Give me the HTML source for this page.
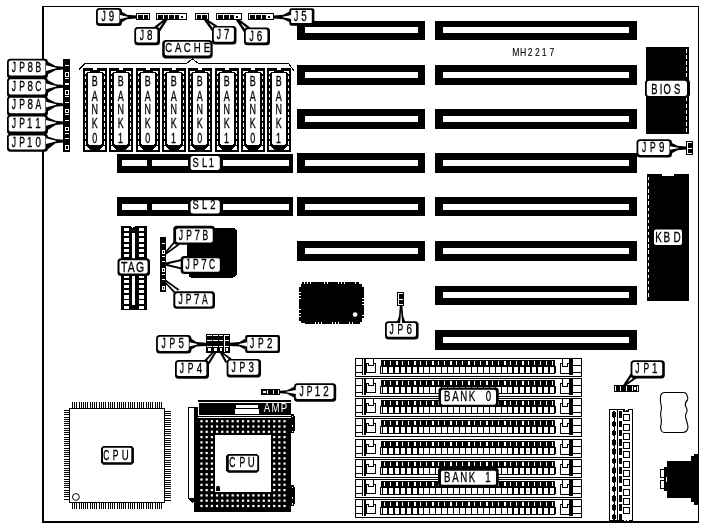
<!DOCTYPE html>
<html><head><meta charset="utf-8"><title>MH2217</title>
<style>
html,body{margin:0;padding:0;background:#fff;}
body{width:704px;height:527px;overflow:hidden;}
svg{display:block;font-family:"Liberation Sans",sans-serif;will-change:transform;}
</style></head><body>
<svg width="704" height="527" viewBox="0 0 704 527" shape-rendering="crispEdges">
<rect x="0" y="0" width="704" height="527" fill="#fff"/>
<rect x="42" y="6" width="657" height="1" fill="#000"/>
<rect x="42" y="6" width="2" height="517" fill="#000"/>
<rect x="698" y="6" width="1" height="516" fill="#000"/>
<rect x="42" y="521" width="657" height="2" fill="#000"/>
<rect x="297" y="21" width="128" height="19" fill="#000"/>
<rect x="305" y="27" width="113" height="6" fill="#fff"/>
<rect x="435" y="21" width="202" height="19" fill="#000"/>
<rect x="443" y="27" width="186" height="6" fill="#fff"/>
<rect x="297" y="65" width="128" height="20" fill="#000"/>
<rect x="305" y="72" width="113" height="6" fill="#fff"/>
<rect x="435" y="65" width="202" height="20" fill="#000"/>
<rect x="443" y="72" width="186" height="6" fill="#fff"/>
<rect x="297" y="109" width="128" height="20" fill="#000"/>
<rect x="305" y="116" width="113" height="6" fill="#fff"/>
<rect x="435" y="109" width="202" height="20" fill="#000"/>
<rect x="443" y="116" width="186" height="6" fill="#fff"/>
<rect x="297" y="153" width="128" height="20" fill="#000"/>
<rect x="305" y="160" width="113" height="6" fill="#fff"/>
<rect x="435" y="153" width="202" height="20" fill="#000"/>
<rect x="443" y="160" width="186" height="6" fill="#fff"/>
<rect x="297" y="197" width="128" height="19" fill="#000"/>
<rect x="305" y="204" width="113" height="6" fill="#fff"/>
<rect x="435" y="197" width="202" height="19" fill="#000"/>
<rect x="443" y="204" width="186" height="6" fill="#fff"/>
<rect x="297" y="241" width="128" height="20" fill="#000"/>
<rect x="305" y="248" width="113" height="6" fill="#fff"/>
<rect x="435" y="241" width="202" height="20" fill="#000"/>
<rect x="443" y="248" width="186" height="6" fill="#fff"/>
<rect x="435" y="286" width="202" height="19" fill="#000"/>
<rect x="443" y="292" width="186" height="6" fill="#fff"/>
<rect x="435" y="330" width="202" height="20" fill="#000"/>
<rect x="443" y="337" width="186" height="6" fill="#fff"/>
<rect x="117" y="154" width="176" height="19" fill="#000"/>
<rect x="122" y="160" width="25" height="6" fill="#fff"/>
<rect x="152" y="160" width="137" height="6" fill="#fff"/>
<rect x="188" y="160" width="34.5" height="6" fill="#000"/>
<rect x="190.6" y="156" width="29.2" height="14" rx="2.5" fill="#fff" shape-rendering="geometricPrecision"/>
<text transform="translate(195.7,166.7) scale(0.7,1)" text-anchor="middle" font-size="13.4" fill="#000" stroke="#000" stroke-width="0.32">S</text>
<text transform="translate(204.6,166.7) scale(0.7,1)" text-anchor="middle" font-size="13.4" fill="#000" stroke="#000" stroke-width="0.32">L</text>
<text transform="translate(211.4,166.7) scale(0.7,1)" text-anchor="middle" font-size="13.4" fill="#000" stroke="#000" stroke-width="0.32">1</text>
<rect x="117" y="197" width="176" height="19" fill="#000"/>
<rect x="122" y="204" width="25" height="6" fill="#fff"/>
<rect x="152" y="204" width="137" height="6" fill="#fff"/>
<rect x="188" y="204" width="34.5" height="6" fill="#000"/>
<rect x="190.6" y="200.2" width="29.2" height="13.4" rx="2.5" fill="#fff" shape-rendering="geometricPrecision"/>
<text transform="translate(195.7,209.2) scale(0.7,1)" text-anchor="middle" font-size="13.4" fill="#000" stroke="#000" stroke-width="0.32">S</text>
<text transform="translate(204.6,209.2) scale(0.7,1)" text-anchor="middle" font-size="13.4" fill="#000" stroke="#000" stroke-width="0.32">L</text>
<text transform="translate(212.8,209.2) scale(0.7,1)" text-anchor="middle" font-size="13.4" fill="#000" stroke="#000" stroke-width="0.32">2</text>
<rect x="136" y="13" width="14" height="7" fill="#000"/>
<rect x="137" y="14" width="12" height="5" fill="#fff"/>
<rect x="138" y="15" width="5" height="4" fill="#000"/>
<rect x="144" y="15" width="4" height="4" fill="#000"/>
<rect x="156" y="13" width="31" height="7" fill="#000"/>
<rect x="157" y="14" width="29" height="5" fill="#fff"/>
<rect x="158" y="15" width="5" height="4" fill="#000"/>
<rect x="164" y="15" width="4" height="4" fill="#000"/>
<rect x="169" y="15" width="5" height="4" fill="#000"/>
<rect x="175" y="15" width="4" height="4" fill="#000"/>
<rect x="181" y="16" width="2" height="2" fill="#000"/>
<rect x="195" y="13" width="14" height="7" fill="#000"/>
<rect x="196" y="14" width="12" height="5" fill="#fff"/>
<rect x="197" y="15" width="4" height="4" fill="#000"/>
<rect x="202" y="15" width="5" height="4" fill="#000"/>
<rect x="216" y="13" width="26" height="7" fill="#000"/>
<rect x="217" y="14" width="24" height="5" fill="#fff"/>
<rect x="218" y="15" width="5" height="4" fill="#000"/>
<rect x="224" y="15" width="5" height="4" fill="#000"/>
<rect x="230" y="15" width="4" height="4" fill="#000"/>
<rect x="236" y="16" width="2" height="2" fill="#000"/>
<rect x="248" y="13" width="26" height="7" fill="#000"/>
<rect x="249" y="14" width="24" height="5" fill="#fff"/>
<rect x="250" y="15" width="5" height="4" fill="#000"/>
<rect x="256" y="15" width="5" height="4" fill="#000"/>
<rect x="262" y="15" width="4" height="4" fill="#000"/>
<rect x="268" y="16" width="2" height="2" fill="#000"/>
<rect x="96" y="8" width="26" height="18" rx="3.5" fill="#000" shape-rendering="geometricPrecision"/>
<rect x="97.8" y="9.7" width="21.6" height="13.6" rx="1.8" fill="#fff" shape-rendering="geometricPrecision"/>
<text transform="translate(103.75,21) scale(0.6,1)" text-anchor="middle" font-size="14.2" fill="#000" stroke="#000" stroke-width="0.32">J</text>
<text transform="translate(111.45,21) scale(0.69,1)" text-anchor="middle" font-size="14.2" fill="#000" stroke="#000" stroke-width="0.32">9</text>
<polygon points="154,27 163.6,19.5 167.8,19.5 160,31.5" fill="#000" shape-rendering="geometricPrecision"/>
<polygon points="155.92,28.44 162.69,22.72 162.91,22.78 158.08,30.06" fill="#fff" shape-rendering="geometricPrecision"/>
<rect x="134.3" y="27" width="25.7" height="18.3" rx="3.5" fill="#000" shape-rendering="geometricPrecision"/>
<rect x="136.1" y="28.7" width="21.3" height="13.9" rx="1.8" fill="#fff" shape-rendering="geometricPrecision"/>
<text transform="translate(141.9,40) scale(0.6,1)" text-anchor="middle" font-size="14.2" fill="#000" stroke="#000" stroke-width="0.32">J</text>
<text transform="translate(149.6,40) scale(0.69,1)" text-anchor="middle" font-size="14.2" fill="#000" stroke="#000" stroke-width="0.32">8</text>
<polygon points="218.5,26.5 207.5,19.5 203.5,19.5 212.3,31.5" fill="#000" shape-rendering="geometricPrecision"/>
<polygon points="216.55,28.07 209.33,23.06 209.16,23.13 214.25,29.93" fill="#fff" shape-rendering="geometricPrecision"/>
<rect x="212" y="25.9" width="24.5" height="18.5" rx="3.5" fill="#000" shape-rendering="geometricPrecision"/>
<rect x="213.8" y="27.6" width="20.1" height="14.1" rx="1.8" fill="#fff" shape-rendering="geometricPrecision"/>
<text transform="translate(219,38.9) scale(0.6,1)" text-anchor="middle" font-size="14.2" fill="#000" stroke="#000" stroke-width="0.32">J</text>
<text transform="translate(226.7,38.9) scale(0.69,1)" text-anchor="middle" font-size="14.2" fill="#000" stroke="#000" stroke-width="0.32">7</text>
<polygon points="250.5,27.8 239.6,19.5 235.6,19.5 244.5,33" fill="#000" shape-rendering="geometricPrecision"/>
<polygon points="248.61,29.44 241.44,23.62 241.3,23.68 246.39,31.36" fill="#fff" shape-rendering="geometricPrecision"/>
<rect x="244" y="27.5" width="26" height="17.7" rx="3.5" fill="#000" shape-rendering="geometricPrecision"/>
<rect x="245.8" y="29.2" width="21.6" height="13.3" rx="1.8" fill="#fff" shape-rendering="geometricPrecision"/>
<text transform="translate(251.75,40.5) scale(0.6,1)" text-anchor="middle" font-size="14.2" fill="#000" stroke="#000" stroke-width="0.32">J</text>
<text transform="translate(259.45,40.5) scale(0.69,1)" text-anchor="middle" font-size="14.2" fill="#000" stroke="#000" stroke-width="0.32">6</text>
<rect x="289.3" y="8.2" width="25.1" height="17.6" rx="2.2" fill="#000" shape-rendering="geometricPrecision"/>
<rect x="291.1" y="9.9" width="20.7" height="13.2" rx="1" fill="#fff" shape-rendering="geometricPrecision"/>
<text transform="translate(296.2,21.2) scale(0.6,1)" text-anchor="middle" font-size="14.2" fill="#000" stroke="#000" stroke-width="0.32">J</text>
<text transform="translate(303.9,21.2) scale(0.69,1)" text-anchor="middle" font-size="14.2" fill="#000" stroke="#000" stroke-width="0.32">5</text>
<rect x="162.2" y="39.9" width="50.5" height="18.7" rx="4" fill="#000" shape-rendering="geometricPrecision"/>
<rect x="164.7" y="41.7" width="45.7" height="13.7" rx="2.2" fill="#fff" shape-rendering="geometricPrecision"/>
<text transform="translate(168.8,51.8) scale(0.72,1)" text-anchor="middle" font-size="13.4" fill="#000" stroke="#000" stroke-width="0.32">C</text>
<text transform="translate(178.1,51.8) scale(0.72,1)" text-anchor="middle" font-size="13.4" fill="#000" stroke="#000" stroke-width="0.32">A</text>
<text transform="translate(187.3,51.8) scale(0.72,1)" text-anchor="middle" font-size="13.4" fill="#000" stroke="#000" stroke-width="0.32">C</text>
<text transform="translate(197.2,51.8) scale(0.72,1)" text-anchor="middle" font-size="13.4" fill="#000" stroke="#000" stroke-width="0.32">H</text>
<text transform="translate(207,51.8) scale(0.72,1)" text-anchor="middle" font-size="13.4" fill="#000" stroke="#000" stroke-width="0.32">E</text>
<polyline points="79,69.5 85,63.5 186.5,63.5 192.3,58.8 198.5,63.5 288.5,63.5 294.5,71.5" fill="none" stroke="#000" stroke-width="1"/>
<rect x="83" y="68" width="24" height="83.5" fill="#000"/>
<rect x="88" y="73" width="14" height="71.8" rx="1.5" fill="#fff"/>
<polygon points="84.8,70.6 90.4,70.6 90.4,71.9 87.2,71.9 84.8,74.2" fill="#fff"/>
<polygon points="105.2,70.6 99.6,70.6 99.6,71.9 102.8,71.9 105.2,74.2" fill="#fff"/>
<polygon points="84.8,146.1 86.6,146.1 90.2,149.8 84.8,149.8" fill="#fff"/>
<polygon points="105.2,146.1 103.4,146.1 99.8,149.8 105.2,149.8" fill="#fff"/>
<rect x="92.8" y="68" width="4" height="1.5" fill="#fff"/>
<rect x="85" y="75.8" width="1.1" height="3.4" fill="#fff"/>
<rect x="103.9" y="75.8" width="1.1" height="3.4" fill="#fff"/>
<rect x="85" y="81.75" width="1.1" height="3.4" fill="#fff"/>
<rect x="103.9" y="81.75" width="1.1" height="3.4" fill="#fff"/>
<rect x="85" y="87.7" width="1.1" height="3.4" fill="#fff"/>
<rect x="103.9" y="87.7" width="1.1" height="3.4" fill="#fff"/>
<rect x="85" y="93.65" width="1.1" height="3.4" fill="#fff"/>
<rect x="103.9" y="93.65" width="1.1" height="3.4" fill="#fff"/>
<rect x="85" y="99.6" width="1.1" height="3.4" fill="#fff"/>
<rect x="103.9" y="99.6" width="1.1" height="3.4" fill="#fff"/>
<rect x="85" y="105.55" width="1.1" height="3.4" fill="#fff"/>
<rect x="103.9" y="105.55" width="1.1" height="3.4" fill="#fff"/>
<rect x="85" y="111.5" width="1.1" height="3.4" fill="#fff"/>
<rect x="103.9" y="111.5" width="1.1" height="3.4" fill="#fff"/>
<rect x="85" y="117.45" width="1.1" height="3.4" fill="#fff"/>
<rect x="103.9" y="117.45" width="1.1" height="3.4" fill="#fff"/>
<rect x="85" y="123.4" width="1.1" height="3.4" fill="#fff"/>
<rect x="103.9" y="123.4" width="1.1" height="3.4" fill="#fff"/>
<rect x="85" y="129.35" width="1.1" height="3.4" fill="#fff"/>
<rect x="103.9" y="129.35" width="1.1" height="3.4" fill="#fff"/>
<rect x="85" y="135.3" width="1.1" height="3.4" fill="#fff"/>
<rect x="103.9" y="135.3" width="1.1" height="3.4" fill="#fff"/>
<rect x="85" y="141.25" width="1.1" height="3.4" fill="#fff"/>
<rect x="103.9" y="141.25" width="1.1" height="3.4" fill="#fff"/>
<text transform="translate(94.8,85.5) scale(0.64,1)" text-anchor="middle" font-size="14" fill="#000" stroke="#000" stroke-width="0.32">B</text>
<text transform="translate(94.8,100.5) scale(0.64,1)" text-anchor="middle" font-size="14" fill="#000" stroke="#000" stroke-width="0.32">A</text>
<text transform="translate(94.8,114.3) scale(0.64,1)" text-anchor="middle" font-size="14" fill="#000" stroke="#000" stroke-width="0.32">N</text>
<text transform="translate(94.8,128.3) scale(0.64,1)" text-anchor="middle" font-size="14" fill="#000" stroke="#000" stroke-width="0.32">K</text>
<text transform="translate(94.8,143.1) scale(0.64,1)" text-anchor="middle" font-size="14" fill="#000" stroke="#000" stroke-width="0.32">0</text>
<rect x="109" y="68" width="24" height="83.5" fill="#000"/>
<rect x="114" y="73" width="14" height="71.8" rx="1.5" fill="#fff"/>
<polygon points="110.8,70.6 116.4,70.6 116.4,71.9 113.2,71.9 110.8,74.2" fill="#fff"/>
<polygon points="131.2,70.6 125.6,70.6 125.6,71.9 128.8,71.9 131.2,74.2" fill="#fff"/>
<polygon points="110.8,146.1 112.6,146.1 116.2,149.8 110.8,149.8" fill="#fff"/>
<polygon points="131.2,146.1 129.4,146.1 125.8,149.8 131.2,149.8" fill="#fff"/>
<rect x="118.8" y="68" width="4" height="1.5" fill="#fff"/>
<rect x="111" y="75.8" width="1.1" height="3.4" fill="#fff"/>
<rect x="129.9" y="75.8" width="1.1" height="3.4" fill="#fff"/>
<rect x="111" y="81.75" width="1.1" height="3.4" fill="#fff"/>
<rect x="129.9" y="81.75" width="1.1" height="3.4" fill="#fff"/>
<rect x="111" y="87.7" width="1.1" height="3.4" fill="#fff"/>
<rect x="129.9" y="87.7" width="1.1" height="3.4" fill="#fff"/>
<rect x="111" y="93.65" width="1.1" height="3.4" fill="#fff"/>
<rect x="129.9" y="93.65" width="1.1" height="3.4" fill="#fff"/>
<rect x="111" y="99.6" width="1.1" height="3.4" fill="#fff"/>
<rect x="129.9" y="99.6" width="1.1" height="3.4" fill="#fff"/>
<rect x="111" y="105.55" width="1.1" height="3.4" fill="#fff"/>
<rect x="129.9" y="105.55" width="1.1" height="3.4" fill="#fff"/>
<rect x="111" y="111.5" width="1.1" height="3.4" fill="#fff"/>
<rect x="129.9" y="111.5" width="1.1" height="3.4" fill="#fff"/>
<rect x="111" y="117.45" width="1.1" height="3.4" fill="#fff"/>
<rect x="129.9" y="117.45" width="1.1" height="3.4" fill="#fff"/>
<rect x="111" y="123.4" width="1.1" height="3.4" fill="#fff"/>
<rect x="129.9" y="123.4" width="1.1" height="3.4" fill="#fff"/>
<rect x="111" y="129.35" width="1.1" height="3.4" fill="#fff"/>
<rect x="129.9" y="129.35" width="1.1" height="3.4" fill="#fff"/>
<rect x="111" y="135.3" width="1.1" height="3.4" fill="#fff"/>
<rect x="129.9" y="135.3" width="1.1" height="3.4" fill="#fff"/>
<rect x="111" y="141.25" width="1.1" height="3.4" fill="#fff"/>
<rect x="129.9" y="141.25" width="1.1" height="3.4" fill="#fff"/>
<text transform="translate(120.8,85.5) scale(0.64,1)" text-anchor="middle" font-size="14" fill="#000" stroke="#000" stroke-width="0.32">B</text>
<text transform="translate(120.8,100.5) scale(0.64,1)" text-anchor="middle" font-size="14" fill="#000" stroke="#000" stroke-width="0.32">A</text>
<text transform="translate(120.8,114.3) scale(0.64,1)" text-anchor="middle" font-size="14" fill="#000" stroke="#000" stroke-width="0.32">N</text>
<text transform="translate(120.8,128.3) scale(0.64,1)" text-anchor="middle" font-size="14" fill="#000" stroke="#000" stroke-width="0.32">K</text>
<text transform="translate(120.4,143.1) scale(0.64,1)" text-anchor="middle" font-size="14" fill="#000" stroke="#000" stroke-width="0.32">1</text>
<rect x="136" y="68" width="24" height="83.5" fill="#000"/>
<rect x="141" y="73" width="14" height="71.8" rx="1.5" fill="#fff"/>
<polygon points="137.8,70.6 143.4,70.6 143.4,71.9 140.2,71.9 137.8,74.2" fill="#fff"/>
<polygon points="158.2,70.6 152.6,70.6 152.6,71.9 155.8,71.9 158.2,74.2" fill="#fff"/>
<polygon points="137.8,146.1 139.6,146.1 143.2,149.8 137.8,149.8" fill="#fff"/>
<polygon points="158.2,146.1 156.4,146.1 152.8,149.8 158.2,149.8" fill="#fff"/>
<rect x="145.8" y="68" width="4" height="1.5" fill="#fff"/>
<rect x="138" y="75.8" width="1.1" height="3.4" fill="#fff"/>
<rect x="156.9" y="75.8" width="1.1" height="3.4" fill="#fff"/>
<rect x="138" y="81.75" width="1.1" height="3.4" fill="#fff"/>
<rect x="156.9" y="81.75" width="1.1" height="3.4" fill="#fff"/>
<rect x="138" y="87.7" width="1.1" height="3.4" fill="#fff"/>
<rect x="156.9" y="87.7" width="1.1" height="3.4" fill="#fff"/>
<rect x="138" y="93.65" width="1.1" height="3.4" fill="#fff"/>
<rect x="156.9" y="93.65" width="1.1" height="3.4" fill="#fff"/>
<rect x="138" y="99.6" width="1.1" height="3.4" fill="#fff"/>
<rect x="156.9" y="99.6" width="1.1" height="3.4" fill="#fff"/>
<rect x="138" y="105.55" width="1.1" height="3.4" fill="#fff"/>
<rect x="156.9" y="105.55" width="1.1" height="3.4" fill="#fff"/>
<rect x="138" y="111.5" width="1.1" height="3.4" fill="#fff"/>
<rect x="156.9" y="111.5" width="1.1" height="3.4" fill="#fff"/>
<rect x="138" y="117.45" width="1.1" height="3.4" fill="#fff"/>
<rect x="156.9" y="117.45" width="1.1" height="3.4" fill="#fff"/>
<rect x="138" y="123.4" width="1.1" height="3.4" fill="#fff"/>
<rect x="156.9" y="123.4" width="1.1" height="3.4" fill="#fff"/>
<rect x="138" y="129.35" width="1.1" height="3.4" fill="#fff"/>
<rect x="156.9" y="129.35" width="1.1" height="3.4" fill="#fff"/>
<rect x="138" y="135.3" width="1.1" height="3.4" fill="#fff"/>
<rect x="156.9" y="135.3" width="1.1" height="3.4" fill="#fff"/>
<rect x="138" y="141.25" width="1.1" height="3.4" fill="#fff"/>
<rect x="156.9" y="141.25" width="1.1" height="3.4" fill="#fff"/>
<text transform="translate(147.8,85.5) scale(0.64,1)" text-anchor="middle" font-size="14" fill="#000" stroke="#000" stroke-width="0.32">B</text>
<text transform="translate(147.8,100.5) scale(0.64,1)" text-anchor="middle" font-size="14" fill="#000" stroke="#000" stroke-width="0.32">A</text>
<text transform="translate(147.8,114.3) scale(0.64,1)" text-anchor="middle" font-size="14" fill="#000" stroke="#000" stroke-width="0.32">N</text>
<text transform="translate(147.8,128.3) scale(0.64,1)" text-anchor="middle" font-size="14" fill="#000" stroke="#000" stroke-width="0.32">K</text>
<text transform="translate(147.8,143.1) scale(0.64,1)" text-anchor="middle" font-size="14" fill="#000" stroke="#000" stroke-width="0.32">0</text>
<rect x="162" y="68" width="24" height="83.5" fill="#000"/>
<rect x="167" y="73" width="14" height="71.8" rx="1.5" fill="#fff"/>
<polygon points="163.8,70.6 169.4,70.6 169.4,71.9 166.2,71.9 163.8,74.2" fill="#fff"/>
<polygon points="184.2,70.6 178.6,70.6 178.6,71.9 181.8,71.9 184.2,74.2" fill="#fff"/>
<polygon points="163.8,146.1 165.6,146.1 169.2,149.8 163.8,149.8" fill="#fff"/>
<polygon points="184.2,146.1 182.4,146.1 178.8,149.8 184.2,149.8" fill="#fff"/>
<rect x="171.8" y="68" width="4" height="1.5" fill="#fff"/>
<rect x="164" y="75.8" width="1.1" height="3.4" fill="#fff"/>
<rect x="182.9" y="75.8" width="1.1" height="3.4" fill="#fff"/>
<rect x="164" y="81.75" width="1.1" height="3.4" fill="#fff"/>
<rect x="182.9" y="81.75" width="1.1" height="3.4" fill="#fff"/>
<rect x="164" y="87.7" width="1.1" height="3.4" fill="#fff"/>
<rect x="182.9" y="87.7" width="1.1" height="3.4" fill="#fff"/>
<rect x="164" y="93.65" width="1.1" height="3.4" fill="#fff"/>
<rect x="182.9" y="93.65" width="1.1" height="3.4" fill="#fff"/>
<rect x="164" y="99.6" width="1.1" height="3.4" fill="#fff"/>
<rect x="182.9" y="99.6" width="1.1" height="3.4" fill="#fff"/>
<rect x="164" y="105.55" width="1.1" height="3.4" fill="#fff"/>
<rect x="182.9" y="105.55" width="1.1" height="3.4" fill="#fff"/>
<rect x="164" y="111.5" width="1.1" height="3.4" fill="#fff"/>
<rect x="182.9" y="111.5" width="1.1" height="3.4" fill="#fff"/>
<rect x="164" y="117.45" width="1.1" height="3.4" fill="#fff"/>
<rect x="182.9" y="117.45" width="1.1" height="3.4" fill="#fff"/>
<rect x="164" y="123.4" width="1.1" height="3.4" fill="#fff"/>
<rect x="182.9" y="123.4" width="1.1" height="3.4" fill="#fff"/>
<rect x="164" y="129.35" width="1.1" height="3.4" fill="#fff"/>
<rect x="182.9" y="129.35" width="1.1" height="3.4" fill="#fff"/>
<rect x="164" y="135.3" width="1.1" height="3.4" fill="#fff"/>
<rect x="182.9" y="135.3" width="1.1" height="3.4" fill="#fff"/>
<rect x="164" y="141.25" width="1.1" height="3.4" fill="#fff"/>
<rect x="182.9" y="141.25" width="1.1" height="3.4" fill="#fff"/>
<text transform="translate(173.8,85.5) scale(0.64,1)" text-anchor="middle" font-size="14" fill="#000" stroke="#000" stroke-width="0.32">B</text>
<text transform="translate(173.8,100.5) scale(0.64,1)" text-anchor="middle" font-size="14" fill="#000" stroke="#000" stroke-width="0.32">A</text>
<text transform="translate(173.8,114.3) scale(0.64,1)" text-anchor="middle" font-size="14" fill="#000" stroke="#000" stroke-width="0.32">N</text>
<text transform="translate(173.8,128.3) scale(0.64,1)" text-anchor="middle" font-size="14" fill="#000" stroke="#000" stroke-width="0.32">K</text>
<text transform="translate(173.4,143.1) scale(0.64,1)" text-anchor="middle" font-size="14" fill="#000" stroke="#000" stroke-width="0.32">1</text>
<rect x="188" y="68" width="24" height="83.5" fill="#000"/>
<rect x="193" y="73" width="14" height="71.8" rx="1.5" fill="#fff"/>
<polygon points="189.8,70.6 195.4,70.6 195.4,71.9 192.2,71.9 189.8,74.2" fill="#fff"/>
<polygon points="210.2,70.6 204.6,70.6 204.6,71.9 207.8,71.9 210.2,74.2" fill="#fff"/>
<polygon points="189.8,146.1 191.6,146.1 195.2,149.8 189.8,149.8" fill="#fff"/>
<polygon points="210.2,146.1 208.4,146.1 204.8,149.8 210.2,149.8" fill="#fff"/>
<rect x="197.8" y="68" width="4" height="1.5" fill="#fff"/>
<rect x="190" y="75.8" width="1.1" height="3.4" fill="#fff"/>
<rect x="208.9" y="75.8" width="1.1" height="3.4" fill="#fff"/>
<rect x="190" y="81.75" width="1.1" height="3.4" fill="#fff"/>
<rect x="208.9" y="81.75" width="1.1" height="3.4" fill="#fff"/>
<rect x="190" y="87.7" width="1.1" height="3.4" fill="#fff"/>
<rect x="208.9" y="87.7" width="1.1" height="3.4" fill="#fff"/>
<rect x="190" y="93.65" width="1.1" height="3.4" fill="#fff"/>
<rect x="208.9" y="93.65" width="1.1" height="3.4" fill="#fff"/>
<rect x="190" y="99.6" width="1.1" height="3.4" fill="#fff"/>
<rect x="208.9" y="99.6" width="1.1" height="3.4" fill="#fff"/>
<rect x="190" y="105.55" width="1.1" height="3.4" fill="#fff"/>
<rect x="208.9" y="105.55" width="1.1" height="3.4" fill="#fff"/>
<rect x="190" y="111.5" width="1.1" height="3.4" fill="#fff"/>
<rect x="208.9" y="111.5" width="1.1" height="3.4" fill="#fff"/>
<rect x="190" y="117.45" width="1.1" height="3.4" fill="#fff"/>
<rect x="208.9" y="117.45" width="1.1" height="3.4" fill="#fff"/>
<rect x="190" y="123.4" width="1.1" height="3.4" fill="#fff"/>
<rect x="208.9" y="123.4" width="1.1" height="3.4" fill="#fff"/>
<rect x="190" y="129.35" width="1.1" height="3.4" fill="#fff"/>
<rect x="208.9" y="129.35" width="1.1" height="3.4" fill="#fff"/>
<rect x="190" y="135.3" width="1.1" height="3.4" fill="#fff"/>
<rect x="208.9" y="135.3" width="1.1" height="3.4" fill="#fff"/>
<rect x="190" y="141.25" width="1.1" height="3.4" fill="#fff"/>
<rect x="208.9" y="141.25" width="1.1" height="3.4" fill="#fff"/>
<text transform="translate(199.8,85.5) scale(0.64,1)" text-anchor="middle" font-size="14" fill="#000" stroke="#000" stroke-width="0.32">B</text>
<text transform="translate(199.8,100.5) scale(0.64,1)" text-anchor="middle" font-size="14" fill="#000" stroke="#000" stroke-width="0.32">A</text>
<text transform="translate(199.8,114.3) scale(0.64,1)" text-anchor="middle" font-size="14" fill="#000" stroke="#000" stroke-width="0.32">N</text>
<text transform="translate(199.8,128.3) scale(0.64,1)" text-anchor="middle" font-size="14" fill="#000" stroke="#000" stroke-width="0.32">K</text>
<text transform="translate(199.8,143.1) scale(0.64,1)" text-anchor="middle" font-size="14" fill="#000" stroke="#000" stroke-width="0.32">0</text>
<rect x="215" y="68" width="24" height="83.5" fill="#000"/>
<rect x="220" y="73" width="14" height="71.8" rx="1.5" fill="#fff"/>
<polygon points="216.8,70.6 222.4,70.6 222.4,71.9 219.2,71.9 216.8,74.2" fill="#fff"/>
<polygon points="237.2,70.6 231.6,70.6 231.6,71.9 234.8,71.9 237.2,74.2" fill="#fff"/>
<polygon points="216.8,146.1 218.6,146.1 222.2,149.8 216.8,149.8" fill="#fff"/>
<polygon points="237.2,146.1 235.4,146.1 231.8,149.8 237.2,149.8" fill="#fff"/>
<rect x="224.8" y="68" width="4" height="1.5" fill="#fff"/>
<rect x="217" y="75.8" width="1.1" height="3.4" fill="#fff"/>
<rect x="235.9" y="75.8" width="1.1" height="3.4" fill="#fff"/>
<rect x="217" y="81.75" width="1.1" height="3.4" fill="#fff"/>
<rect x="235.9" y="81.75" width="1.1" height="3.4" fill="#fff"/>
<rect x="217" y="87.7" width="1.1" height="3.4" fill="#fff"/>
<rect x="235.9" y="87.7" width="1.1" height="3.4" fill="#fff"/>
<rect x="217" y="93.65" width="1.1" height="3.4" fill="#fff"/>
<rect x="235.9" y="93.65" width="1.1" height="3.4" fill="#fff"/>
<rect x="217" y="99.6" width="1.1" height="3.4" fill="#fff"/>
<rect x="235.9" y="99.6" width="1.1" height="3.4" fill="#fff"/>
<rect x="217" y="105.55" width="1.1" height="3.4" fill="#fff"/>
<rect x="235.9" y="105.55" width="1.1" height="3.4" fill="#fff"/>
<rect x="217" y="111.5" width="1.1" height="3.4" fill="#fff"/>
<rect x="235.9" y="111.5" width="1.1" height="3.4" fill="#fff"/>
<rect x="217" y="117.45" width="1.1" height="3.4" fill="#fff"/>
<rect x="235.9" y="117.45" width="1.1" height="3.4" fill="#fff"/>
<rect x="217" y="123.4" width="1.1" height="3.4" fill="#fff"/>
<rect x="235.9" y="123.4" width="1.1" height="3.4" fill="#fff"/>
<rect x="217" y="129.35" width="1.1" height="3.4" fill="#fff"/>
<rect x="235.9" y="129.35" width="1.1" height="3.4" fill="#fff"/>
<rect x="217" y="135.3" width="1.1" height="3.4" fill="#fff"/>
<rect x="235.9" y="135.3" width="1.1" height="3.4" fill="#fff"/>
<rect x="217" y="141.25" width="1.1" height="3.4" fill="#fff"/>
<rect x="235.9" y="141.25" width="1.1" height="3.4" fill="#fff"/>
<text transform="translate(226.8,85.5) scale(0.64,1)" text-anchor="middle" font-size="14" fill="#000" stroke="#000" stroke-width="0.32">B</text>
<text transform="translate(226.8,100.5) scale(0.64,1)" text-anchor="middle" font-size="14" fill="#000" stroke="#000" stroke-width="0.32">A</text>
<text transform="translate(226.8,114.3) scale(0.64,1)" text-anchor="middle" font-size="14" fill="#000" stroke="#000" stroke-width="0.32">N</text>
<text transform="translate(226.8,128.3) scale(0.64,1)" text-anchor="middle" font-size="14" fill="#000" stroke="#000" stroke-width="0.32">K</text>
<text transform="translate(226.4,143.1) scale(0.64,1)" text-anchor="middle" font-size="14" fill="#000" stroke="#000" stroke-width="0.32">1</text>
<rect x="241" y="68" width="24" height="83.5" fill="#000"/>
<rect x="246" y="73" width="14" height="71.8" rx="1.5" fill="#fff"/>
<polygon points="242.8,70.6 248.4,70.6 248.4,71.9 245.2,71.9 242.8,74.2" fill="#fff"/>
<polygon points="263.2,70.6 257.6,70.6 257.6,71.9 260.8,71.9 263.2,74.2" fill="#fff"/>
<polygon points="242.8,146.1 244.6,146.1 248.2,149.8 242.8,149.8" fill="#fff"/>
<polygon points="263.2,146.1 261.4,146.1 257.8,149.8 263.2,149.8" fill="#fff"/>
<rect x="250.8" y="68" width="4" height="1.5" fill="#fff"/>
<rect x="243" y="75.8" width="1.1" height="3.4" fill="#fff"/>
<rect x="261.9" y="75.8" width="1.1" height="3.4" fill="#fff"/>
<rect x="243" y="81.75" width="1.1" height="3.4" fill="#fff"/>
<rect x="261.9" y="81.75" width="1.1" height="3.4" fill="#fff"/>
<rect x="243" y="87.7" width="1.1" height="3.4" fill="#fff"/>
<rect x="261.9" y="87.7" width="1.1" height="3.4" fill="#fff"/>
<rect x="243" y="93.65" width="1.1" height="3.4" fill="#fff"/>
<rect x="261.9" y="93.65" width="1.1" height="3.4" fill="#fff"/>
<rect x="243" y="99.6" width="1.1" height="3.4" fill="#fff"/>
<rect x="261.9" y="99.6" width="1.1" height="3.4" fill="#fff"/>
<rect x="243" y="105.55" width="1.1" height="3.4" fill="#fff"/>
<rect x="261.9" y="105.55" width="1.1" height="3.4" fill="#fff"/>
<rect x="243" y="111.5" width="1.1" height="3.4" fill="#fff"/>
<rect x="261.9" y="111.5" width="1.1" height="3.4" fill="#fff"/>
<rect x="243" y="117.45" width="1.1" height="3.4" fill="#fff"/>
<rect x="261.9" y="117.45" width="1.1" height="3.4" fill="#fff"/>
<rect x="243" y="123.4" width="1.1" height="3.4" fill="#fff"/>
<rect x="261.9" y="123.4" width="1.1" height="3.4" fill="#fff"/>
<rect x="243" y="129.35" width="1.1" height="3.4" fill="#fff"/>
<rect x="261.9" y="129.35" width="1.1" height="3.4" fill="#fff"/>
<rect x="243" y="135.3" width="1.1" height="3.4" fill="#fff"/>
<rect x="261.9" y="135.3" width="1.1" height="3.4" fill="#fff"/>
<rect x="243" y="141.25" width="1.1" height="3.4" fill="#fff"/>
<rect x="261.9" y="141.25" width="1.1" height="3.4" fill="#fff"/>
<text transform="translate(252.8,85.5) scale(0.64,1)" text-anchor="middle" font-size="14" fill="#000" stroke="#000" stroke-width="0.32">B</text>
<text transform="translate(252.8,100.5) scale(0.64,1)" text-anchor="middle" font-size="14" fill="#000" stroke="#000" stroke-width="0.32">A</text>
<text transform="translate(252.8,114.3) scale(0.64,1)" text-anchor="middle" font-size="14" fill="#000" stroke="#000" stroke-width="0.32">N</text>
<text transform="translate(252.8,128.3) scale(0.64,1)" text-anchor="middle" font-size="14" fill="#000" stroke="#000" stroke-width="0.32">K</text>
<text transform="translate(252.8,143.1) scale(0.64,1)" text-anchor="middle" font-size="14" fill="#000" stroke="#000" stroke-width="0.32">0</text>
<rect x="267" y="68" width="24" height="83.5" fill="#000"/>
<rect x="272" y="73" width="14" height="71.8" rx="1.5" fill="#fff"/>
<polygon points="268.8,70.6 274.4,70.6 274.4,71.9 271.2,71.9 268.8,74.2" fill="#fff"/>
<polygon points="289.2,70.6 283.6,70.6 283.6,71.9 286.8,71.9 289.2,74.2" fill="#fff"/>
<polygon points="268.8,146.1 270.6,146.1 274.2,149.8 268.8,149.8" fill="#fff"/>
<polygon points="289.2,146.1 287.4,146.1 283.8,149.8 289.2,149.8" fill="#fff"/>
<rect x="276.8" y="68" width="4" height="1.5" fill="#fff"/>
<rect x="269" y="75.8" width="1.1" height="3.4" fill="#fff"/>
<rect x="287.9" y="75.8" width="1.1" height="3.4" fill="#fff"/>
<rect x="269" y="81.75" width="1.1" height="3.4" fill="#fff"/>
<rect x="287.9" y="81.75" width="1.1" height="3.4" fill="#fff"/>
<rect x="269" y="87.7" width="1.1" height="3.4" fill="#fff"/>
<rect x="287.9" y="87.7" width="1.1" height="3.4" fill="#fff"/>
<rect x="269" y="93.65" width="1.1" height="3.4" fill="#fff"/>
<rect x="287.9" y="93.65" width="1.1" height="3.4" fill="#fff"/>
<rect x="269" y="99.6" width="1.1" height="3.4" fill="#fff"/>
<rect x="287.9" y="99.6" width="1.1" height="3.4" fill="#fff"/>
<rect x="269" y="105.55" width="1.1" height="3.4" fill="#fff"/>
<rect x="287.9" y="105.55" width="1.1" height="3.4" fill="#fff"/>
<rect x="269" y="111.5" width="1.1" height="3.4" fill="#fff"/>
<rect x="287.9" y="111.5" width="1.1" height="3.4" fill="#fff"/>
<rect x="269" y="117.45" width="1.1" height="3.4" fill="#fff"/>
<rect x="287.9" y="117.45" width="1.1" height="3.4" fill="#fff"/>
<rect x="269" y="123.4" width="1.1" height="3.4" fill="#fff"/>
<rect x="287.9" y="123.4" width="1.1" height="3.4" fill="#fff"/>
<rect x="269" y="129.35" width="1.1" height="3.4" fill="#fff"/>
<rect x="287.9" y="129.35" width="1.1" height="3.4" fill="#fff"/>
<rect x="269" y="135.3" width="1.1" height="3.4" fill="#fff"/>
<rect x="287.9" y="135.3" width="1.1" height="3.4" fill="#fff"/>
<rect x="269" y="141.25" width="1.1" height="3.4" fill="#fff"/>
<rect x="287.9" y="141.25" width="1.1" height="3.4" fill="#fff"/>
<text transform="translate(278.8,85.5) scale(0.64,1)" text-anchor="middle" font-size="14" fill="#000" stroke="#000" stroke-width="0.32">B</text>
<text transform="translate(278.8,100.5) scale(0.64,1)" text-anchor="middle" font-size="14" fill="#000" stroke="#000" stroke-width="0.32">A</text>
<text transform="translate(278.8,114.3) scale(0.64,1)" text-anchor="middle" font-size="14" fill="#000" stroke="#000" stroke-width="0.32">N</text>
<text transform="translate(278.8,128.3) scale(0.64,1)" text-anchor="middle" font-size="14" fill="#000" stroke="#000" stroke-width="0.32">K</text>
<text transform="translate(278.4,143.1) scale(0.64,1)" text-anchor="middle" font-size="14" fill="#000" stroke="#000" stroke-width="0.32">1</text>
<rect x="63" y="59" width="7" height="92.5" fill="#000"/>
<rect x="65" y="65" width="4" height="1.3" fill="#fff"/>
<rect x="65" y="72" width="4" height="4.6" fill="#fff"/>
<rect x="66" y="73" width="2" height="2.6" fill="#000"/>
<rect x="66.6" y="73.8" width="0.8" height="1" fill="#fff"/>
<rect x="65" y="83.25" width="4" height="1.3" fill="#fff"/>
<rect x="65" y="77.85" width="4" height="1" fill="#fff"/>
<rect x="65" y="90.25" width="4" height="4.6" fill="#fff"/>
<rect x="66" y="91.25" width="2" height="2.6" fill="#000"/>
<rect x="66.6" y="92.05" width="0.8" height="1" fill="#fff"/>
<rect x="65" y="101.5" width="4" height="1.3" fill="#fff"/>
<rect x="65" y="96.1" width="4" height="1" fill="#fff"/>
<rect x="65" y="108.5" width="4" height="4.6" fill="#fff"/>
<rect x="66" y="109.5" width="2" height="2.6" fill="#000"/>
<rect x="66.6" y="110.3" width="0.8" height="1" fill="#fff"/>
<rect x="65" y="119.75" width="4" height="1.3" fill="#fff"/>
<rect x="65" y="114.35" width="4" height="1" fill="#fff"/>
<rect x="65" y="126.75" width="4" height="4.6" fill="#fff"/>
<rect x="66" y="127.75" width="2" height="2.6" fill="#000"/>
<rect x="66.6" y="128.55" width="0.8" height="1" fill="#fff"/>
<rect x="65" y="138" width="4" height="1.3" fill="#fff"/>
<rect x="65" y="132.6" width="4" height="1" fill="#fff"/>
<rect x="65" y="145" width="4" height="4.6" fill="#fff"/>
<rect x="66" y="146" width="2" height="2.6" fill="#000"/>
<rect x="66.6" y="146.8" width="0.8" height="1" fill="#fff"/>
<rect x="7" y="58.8" width="41" height="19.7" rx="3.5" fill="#000" shape-rendering="geometricPrecision"/>
<rect x="8.8" y="60.5" width="36.6" height="15" rx="1.8" fill="#fff" shape-rendering="geometricPrecision"/>
<text transform="translate(13.95,71.8) scale(0.6,1)" text-anchor="middle" font-size="14.2" fill="#000" stroke="#000" stroke-width="0.32">J</text>
<text transform="translate(22.05,71.8) scale(0.6,1)" text-anchor="middle" font-size="14.2" fill="#000" stroke="#000" stroke-width="0.32">P</text>
<text transform="translate(30.15,71.8) scale(0.69,1)" text-anchor="middle" font-size="14.2" fill="#000" stroke="#000" stroke-width="0.32">8</text>
<text transform="translate(38.25,71.8) scale(0.6,1)" text-anchor="middle" font-size="14.2" fill="#000" stroke="#000" stroke-width="0.32">B</text>
<rect x="7" y="77.5" width="41" height="20" rx="3.5" fill="#000" shape-rendering="geometricPrecision"/>
<rect x="8.8" y="79.2" width="36.6" height="15.3" rx="1.8" fill="#fff" shape-rendering="geometricPrecision"/>
<text transform="translate(13.95,90.5) scale(0.6,1)" text-anchor="middle" font-size="14.2" fill="#000" stroke="#000" stroke-width="0.32">J</text>
<text transform="translate(22.05,90.5) scale(0.6,1)" text-anchor="middle" font-size="14.2" fill="#000" stroke="#000" stroke-width="0.32">P</text>
<text transform="translate(30.15,90.5) scale(0.69,1)" text-anchor="middle" font-size="14.2" fill="#000" stroke="#000" stroke-width="0.32">8</text>
<text transform="translate(38.25,90.5) scale(0.6,1)" text-anchor="middle" font-size="14.2" fill="#000" stroke="#000" stroke-width="0.32">C</text>
<rect x="7" y="96" width="41" height="20.2" rx="3.5" fill="#000" shape-rendering="geometricPrecision"/>
<rect x="8.8" y="97.7" width="36.6" height="15.5" rx="1.8" fill="#fff" shape-rendering="geometricPrecision"/>
<text transform="translate(13.95,109) scale(0.6,1)" text-anchor="middle" font-size="14.2" fill="#000" stroke="#000" stroke-width="0.32">J</text>
<text transform="translate(22.05,109) scale(0.6,1)" text-anchor="middle" font-size="14.2" fill="#000" stroke="#000" stroke-width="0.32">P</text>
<text transform="translate(30.15,109) scale(0.69,1)" text-anchor="middle" font-size="14.2" fill="#000" stroke="#000" stroke-width="0.32">8</text>
<text transform="translate(38.25,109) scale(0.6,1)" text-anchor="middle" font-size="14.2" fill="#000" stroke="#000" stroke-width="0.32">A</text>
<rect x="7" y="114.7" width="41" height="19.8" rx="3.5" fill="#000" shape-rendering="geometricPrecision"/>
<rect x="8.8" y="116.4" width="36.6" height="15.1" rx="1.8" fill="#fff" shape-rendering="geometricPrecision"/>
<text transform="translate(13.95,127.7) scale(0.6,1)" text-anchor="middle" font-size="14.2" fill="#000" stroke="#000" stroke-width="0.32">J</text>
<text transform="translate(22.05,127.7) scale(0.6,1)" text-anchor="middle" font-size="14.2" fill="#000" stroke="#000" stroke-width="0.32">P</text>
<text transform="translate(29.75,127.7) scale(0.69,1)" text-anchor="middle" font-size="14.2" fill="#000" stroke="#000" stroke-width="0.32">1</text>
<text transform="translate(37.85,127.7) scale(0.69,1)" text-anchor="middle" font-size="14.2" fill="#000" stroke="#000" stroke-width="0.32">1</text>
<rect x="7" y="133.8" width="41" height="18" rx="3.5" fill="#000" shape-rendering="geometricPrecision"/>
<rect x="8.8" y="135.5" width="36.6" height="13.9" rx="1.8" fill="#fff" shape-rendering="geometricPrecision"/>
<text transform="translate(13.95,146.8) scale(0.6,1)" text-anchor="middle" font-size="14.2" fill="#000" stroke="#000" stroke-width="0.32">J</text>
<text transform="translate(22.05,146.8) scale(0.6,1)" text-anchor="middle" font-size="14.2" fill="#000" stroke="#000" stroke-width="0.32">P</text>
<text transform="translate(29.75,146.8) scale(0.69,1)" text-anchor="middle" font-size="14.2" fill="#000" stroke="#000" stroke-width="0.32">1</text>
<text transform="translate(38.25,146.8) scale(0.69,1)" text-anchor="middle" font-size="14.2" fill="#000" stroke="#000" stroke-width="0.32">0</text>
<rect x="646" y="47" width="43" height="87" fill="#000"/>
<rect x="686" y="49" width="1" height="3.6" fill="#fff"/>
<rect x="686" y="55.1" width="1" height="3.6" fill="#fff"/>
<rect x="686" y="61.2" width="1" height="3.6" fill="#fff"/>
<rect x="686" y="67.3" width="1" height="3.6" fill="#fff"/>
<rect x="686" y="73.4" width="1" height="3.6" fill="#fff"/>
<rect x="686" y="79.5" width="1" height="3.6" fill="#fff"/>
<rect x="686" y="85.6" width="1" height="3.6" fill="#fff"/>
<rect x="686" y="91.7" width="1" height="3.6" fill="#fff"/>
<rect x="686" y="97.8" width="1" height="3.6" fill="#fff"/>
<rect x="686" y="103.9" width="1" height="3.6" fill="#fff"/>
<rect x="686" y="110" width="1" height="3.6" fill="#fff"/>
<rect x="686" y="116.1" width="1" height="3.6" fill="#fff"/>
<rect x="686" y="122.2" width="1" height="3.6" fill="#fff"/>
<rect x="686" y="128.3" width="1" height="3.6" fill="#fff"/>
<rect x="645" y="79.8" width="45" height="17.2" rx="3" fill="#000" shape-rendering="geometricPrecision"/>
<rect x="646.8" y="80.8" width="40.2" height="15.1" rx="2.5" fill="#fff" shape-rendering="geometricPrecision"/>
<text transform="translate(654.3,93.7) scale(0.66,1)" text-anchor="middle" font-size="14.2" fill="#000" stroke="#000" stroke-width="0.32">B</text>
<text transform="translate(661,93.7) scale(0.66,1)" text-anchor="middle" font-size="14.2" fill="#000" stroke="#000" stroke-width="0.32">I</text>
<text transform="translate(667.1,93.7) scale(0.66,1)" text-anchor="middle" font-size="14.2" fill="#000" stroke="#000" stroke-width="0.32">O</text>
<text transform="translate(677.1,93.7) scale(0.66,1)" text-anchor="middle" font-size="14.2" fill="#000" stroke="#000" stroke-width="0.32">S</text>
<rect x="647" y="174" width="42" height="126.5" fill="#000"/>
<rect x="662" y="174" width="12" height="2" fill="#fff"/>
<rect x="648.3" y="177" width="1" height="3.3" fill="#fff"/>
<rect x="648.3" y="183.12" width="1" height="3.3" fill="#fff"/>
<rect x="648.3" y="189.24" width="1" height="3.3" fill="#fff"/>
<rect x="648.3" y="195.36" width="1" height="3.3" fill="#fff"/>
<rect x="648.3" y="201.48" width="1" height="3.3" fill="#fff"/>
<rect x="648.3" y="207.6" width="1" height="3.3" fill="#fff"/>
<rect x="648.3" y="213.72" width="1" height="3.3" fill="#fff"/>
<rect x="648.3" y="219.84" width="1" height="3.3" fill="#fff"/>
<rect x="648.3" y="225.96" width="1" height="3.3" fill="#fff"/>
<rect x="648.3" y="232.08" width="1" height="3.3" fill="#fff"/>
<rect x="648.3" y="238.2" width="1" height="3.3" fill="#fff"/>
<rect x="648.3" y="244.32" width="1" height="3.3" fill="#fff"/>
<rect x="648.3" y="250.44" width="1" height="3.3" fill="#fff"/>
<rect x="648.3" y="256.56" width="1" height="3.3" fill="#fff"/>
<rect x="648.3" y="262.68" width="1" height="3.3" fill="#fff"/>
<rect x="648.3" y="268.8" width="1" height="3.3" fill="#fff"/>
<rect x="648.3" y="274.92" width="1" height="3.3" fill="#fff"/>
<rect x="648.3" y="281.04" width="1" height="3.3" fill="#fff"/>
<rect x="648.3" y="287.16" width="1" height="3.3" fill="#fff"/>
<rect x="648.3" y="293.28" width="1" height="3.3" fill="#fff"/>
<rect x="654" y="229.5" width="28" height="15.5" rx="2" fill="#fff" shape-rendering="geometricPrecision"/>
<text transform="translate(658.6,242.3) scale(0.7,1)" text-anchor="middle" font-size="14.2" fill="#000" stroke="#000" stroke-width="0.32">K</text>
<text transform="translate(666.8,242.3) scale(0.7,1)" text-anchor="middle" font-size="14.2" fill="#000" stroke="#000" stroke-width="0.32">B</text>
<text transform="translate(677,242.3) scale(0.7,1)" text-anchor="middle" font-size="14.2" fill="#000" stroke="#000" stroke-width="0.32">D</text>
<rect x="686" y="141" width="7" height="14" fill="#000"/>
<rect x="687" y="142" width="1" height="12" fill="#fff"/>
<rect x="687" y="142" width="5" height="1" fill="#fff"/>
<rect x="688" y="147.6" width="4" height="1.2" fill="#fff"/>
<rect x="687" y="153" width="5" height="1" fill="#fff"/>
<rect x="636.5" y="139.3" width="35.5" height="18.3" rx="3.5" fill="#000" shape-rendering="geometricPrecision"/>
<rect x="638.3" y="141" width="31.1" height="13.9" rx="1.8" fill="#fff" shape-rendering="geometricPrecision"/>
<text transform="translate(644.05,152.3) scale(0.6,1)" text-anchor="middle" font-size="14.2" fill="#000" stroke="#000" stroke-width="0.32">J</text>
<text transform="translate(652.85,152.3) scale(0.6,1)" text-anchor="middle" font-size="14.2" fill="#000" stroke="#000" stroke-width="0.32">P</text>
<text transform="translate(661.65,152.3) scale(0.69,1)" text-anchor="middle" font-size="14.2" fill="#000" stroke="#000" stroke-width="0.32">9</text>
<text transform="translate(515.8,55.8) scale(0.85,1)" text-anchor="middle" font-size="10.2" fill="#000" stroke="#000" stroke-width="0.1">M</text>
<text transform="translate(523,55.8) scale(0.85,1)" text-anchor="middle" font-size="10.2" fill="#000" stroke="#000" stroke-width="0.1">H</text>
<text transform="translate(530.2,55.8) scale(0.85,1)" text-anchor="middle" font-size="10.2" fill="#000" stroke="#000" stroke-width="0.1">2</text>
<text transform="translate(537.4,55.8) scale(0.85,1)" text-anchor="middle" font-size="10.2" fill="#000" stroke="#000" stroke-width="0.1">2</text>
<text transform="translate(544.2,55.8) scale(0.85,1)" text-anchor="middle" font-size="10.2" fill="#000" stroke="#000" stroke-width="0.1">1</text>
<text transform="translate(551.8,55.8) scale(0.85,1)" text-anchor="middle" font-size="10.2" fill="#000" stroke="#000" stroke-width="0.1">7</text>
<rect x="121" y="226" width="25.5" height="83.5" fill="#000"/>
<rect x="131.5" y="232.5" width="3.5" height="72.2" fill="#fff"/>
<polygon points="131,226 135.5,226 134,228 133.3,227.3 132.5,228" fill="#fff"/>
<rect x="123.5" y="228" width="5" height="3.3" fill="#fff"/>
<rect x="139" y="228" width="5" height="3.3" fill="#fff"/>
<rect x="123.5" y="233.17" width="5" height="3.3" fill="#fff"/>
<rect x="139" y="233.17" width="5" height="3.3" fill="#fff"/>
<rect x="123.5" y="238.34" width="5" height="3.3" fill="#fff"/>
<rect x="139" y="238.34" width="5" height="3.3" fill="#fff"/>
<rect x="123.5" y="243.51" width="5" height="3.3" fill="#fff"/>
<rect x="139" y="243.51" width="5" height="3.3" fill="#fff"/>
<rect x="123.5" y="248.68" width="5" height="3.3" fill="#fff"/>
<rect x="139" y="248.68" width="5" height="3.3" fill="#fff"/>
<rect x="123.5" y="253.85" width="5" height="3.3" fill="#fff"/>
<rect x="139" y="253.85" width="5" height="3.3" fill="#fff"/>
<rect x="123.5" y="259.02" width="5" height="3.3" fill="#fff"/>
<rect x="139" y="259.02" width="5" height="3.3" fill="#fff"/>
<rect x="123.5" y="264.19" width="5" height="3.3" fill="#fff"/>
<rect x="139" y="264.19" width="5" height="3.3" fill="#fff"/>
<rect x="123.5" y="269.36" width="5" height="3.3" fill="#fff"/>
<rect x="139" y="269.36" width="5" height="3.3" fill="#fff"/>
<rect x="123.5" y="274.53" width="5" height="3.3" fill="#fff"/>
<rect x="139" y="274.53" width="5" height="3.3" fill="#fff"/>
<rect x="123.5" y="279.7" width="5" height="3.3" fill="#fff"/>
<rect x="139" y="279.7" width="5" height="3.3" fill="#fff"/>
<rect x="123.5" y="284.87" width="5" height="3.3" fill="#fff"/>
<rect x="139" y="284.87" width="5" height="3.3" fill="#fff"/>
<rect x="123.5" y="290.04" width="5" height="3.3" fill="#fff"/>
<rect x="139" y="290.04" width="5" height="3.3" fill="#fff"/>
<rect x="123.5" y="295.21" width="5" height="3.3" fill="#fff"/>
<rect x="139" y="295.21" width="5" height="3.3" fill="#fff"/>
<rect x="123.5" y="300.38" width="5" height="3.3" fill="#fff"/>
<rect x="139" y="300.38" width="5" height="3.3" fill="#fff"/>
<rect x="123.5" y="305.55" width="5" height="3.3" fill="#fff"/>
<rect x="139" y="305.55" width="5" height="3.3" fill="#fff"/>
<rect x="117.5" y="258.2" width="32.5" height="17.8" rx="3.5" fill="#000" shape-rendering="geometricPrecision"/>
<rect x="119.5" y="260.2" width="28.1" height="13.2" rx="1.8" fill="#fff" shape-rendering="geometricPrecision"/>
<text transform="translate(124.2,271.6) scale(0.74,1)" text-anchor="middle" font-size="14.2" fill="#000" stroke="#000" stroke-width="0.32">T</text>
<text transform="translate(131.3,271.6) scale(0.74,1)" text-anchor="middle" font-size="14.2" fill="#000" stroke="#000" stroke-width="0.32">A</text>
<text transform="translate(140.1,271.6) scale(0.74,1)" text-anchor="middle" font-size="14.2" fill="#000" stroke="#000" stroke-width="0.32">G</text>
<rect x="186.5" y="228" width="50.8" height="49.5" rx="4.5" fill="#000"/>
<rect x="186" y="272" width="3" height="6" fill="#fff"/>
<rect x="160" y="237" width="6" height="54.5" fill="#000"/>
<rect x="161.5" y="242.5" width="3.3" height="1" fill="#fff"/>
<rect x="161.5" y="250" width="3.3" height="3.5" fill="#fff"/>
<rect x="162.5" y="251" width="1.5" height="1.6" fill="#000"/>
<rect x="161.5" y="256" width="3.3" height="1" fill="#fff"/>
<rect x="161.5" y="260.7" width="3.3" height="1" fill="#fff"/>
<rect x="161.5" y="268.2" width="3.3" height="3.5" fill="#fff"/>
<rect x="162.5" y="269.2" width="1.5" height="1.6" fill="#000"/>
<rect x="161.5" y="274.2" width="3.3" height="1" fill="#fff"/>
<rect x="161.5" y="278.9" width="3.3" height="1" fill="#fff"/>
<rect x="161.5" y="286.4" width="3.3" height="3.5" fill="#fff"/>
<rect x="162.5" y="287.4" width="1.5" height="1.6" fill="#000"/>
<polygon points="173.8,241.5 166,250.8 166,254.8 179.5,245" fill="#000" shape-rendering="geometricPrecision"/>
<polygon points="175.42,242.49 167.17,251.64 167.2,251.83 177.88,244.01" fill="#fff" shape-rendering="geometricPrecision"/>
<rect x="173.3" y="225.8" width="41.7" height="19" rx="3.5" fill="#000" shape-rendering="geometricPrecision"/>
<rect x="176.1" y="228.4" width="36.6" height="14.1" rx="1.8" fill="#fff" shape-rendering="geometricPrecision"/>
<text transform="translate(181,239.5) scale(0.6,1)" text-anchor="middle" font-size="14.2" fill="#000" stroke="#000" stroke-width="0.32">J</text>
<text transform="translate(189.1,239.5) scale(0.6,1)" text-anchor="middle" font-size="14.2" fill="#000" stroke="#000" stroke-width="0.32">P</text>
<text transform="translate(197.2,239.5) scale(0.69,1)" text-anchor="middle" font-size="14.2" fill="#000" stroke="#000" stroke-width="0.32">7</text>
<text transform="translate(205.3,239.5) scale(0.6,1)" text-anchor="middle" font-size="14.2" fill="#000" stroke="#000" stroke-width="0.32">B</text>
<polygon points="181.5,259 166,262.6 166,265.8 181.5,269.5" fill="#000" shape-rendering="geometricPrecision"/>
<polygon points="181.5,261 168.76,263.96 168.76,264.46 181.5,267.5" fill="#fff" shape-rendering="geometricPrecision"/>
<rect x="180.7" y="255.9" width="40.8" height="18.1" rx="3.5" fill="#000" shape-rendering="geometricPrecision"/>
<rect x="183.1" y="258.2" width="36.7" height="13.6" rx="1.8" fill="#fff" shape-rendering="geometricPrecision"/>
<text transform="translate(187.75,268.8) scale(0.6,1)" text-anchor="middle" font-size="14.2" fill="#000" stroke="#000" stroke-width="0.32">J</text>
<text transform="translate(195.85,268.8) scale(0.6,1)" text-anchor="middle" font-size="14.2" fill="#000" stroke="#000" stroke-width="0.32">P</text>
<text transform="translate(203.95,268.8) scale(0.69,1)" text-anchor="middle" font-size="14.2" fill="#000" stroke="#000" stroke-width="0.32">7</text>
<text transform="translate(212.05,268.8) scale(0.6,1)" text-anchor="middle" font-size="14.2" fill="#000" stroke="#000" stroke-width="0.32">C</text>
<polygon points="179.5,289.5 166,279.8 166,284.2 173.8,293" fill="#000" shape-rendering="geometricPrecision"/>
<polygon points="177.88,290.49 166.33,281.99 166.31,282.57 175.42,292.01" fill="#fff" shape-rendering="geometricPrecision"/>
<rect x="173.3" y="291.2" width="41.7" height="17.6" rx="3.5" fill="#000" shape-rendering="geometricPrecision"/>
<rect x="175.3" y="293.3" width="37.2" height="13.2" rx="1.8" fill="#fff" shape-rendering="geometricPrecision"/>
<text transform="translate(180.6,303.9) scale(0.6,1)" text-anchor="middle" font-size="14.2" fill="#000" stroke="#000" stroke-width="0.32">J</text>
<text transform="translate(188.7,303.9) scale(0.6,1)" text-anchor="middle" font-size="14.2" fill="#000" stroke="#000" stroke-width="0.32">P</text>
<text transform="translate(196.8,303.9) scale(0.69,1)" text-anchor="middle" font-size="14.2" fill="#000" stroke="#000" stroke-width="0.32">7</text>
<text transform="translate(204.9,303.9) scale(0.6,1)" text-anchor="middle" font-size="14.2" fill="#000" stroke="#000" stroke-width="0.32">A</text>
<polygon points="302,282 358.5,282 358.5,283.5 362,283.5 362,287 364,287 364,317.5 362,317.5 362,322 360,322 360,324 305.4,324 305.4,322.5 301,322.5 301,321 299,321 299,286.6 301,286.6 301,283.5 302,283.5" fill="#000"/>
<circle cx="355.1" cy="314.6" r="2.3" fill="#fff" shape-rendering="geometricPrecision"/>
<rect x="304" y="282" width="1" height="2" fill="#fff"/>
<rect x="307.3" y="282" width="1" height="2" fill="#fff"/>
<rect x="310" y="282" width="1" height="2" fill="#fff"/>
<rect x="324" y="282" width="1" height="2" fill="#fff"/>
<rect x="327" y="282" width="1" height="2" fill="#fff"/>
<rect x="338" y="282" width="1" height="2" fill="#fff"/>
<rect x="341.3" y="282" width="1" height="2" fill="#fff"/>
<rect x="344" y="282" width="1" height="2" fill="#fff"/>
<rect x="355" y="282" width="1" height="2" fill="#fff"/>
<rect x="315" y="322" width="1" height="2" fill="#fff"/>
<rect x="318" y="322" width="1" height="2" fill="#fff"/>
<rect x="321" y="322" width="1" height="2" fill="#fff"/>
<rect x="332.3" y="322" width="1" height="2" fill="#fff"/>
<rect x="335.3" y="322" width="1" height="2" fill="#fff"/>
<rect x="338" y="322" width="1" height="2" fill="#fff"/>
<rect x="349.3" y="322" width="1" height="2" fill="#fff"/>
<rect x="352" y="322" width="1" height="2" fill="#fff"/>
<rect x="299" y="292" width="2" height="1" fill="#fff"/>
<rect x="299" y="295" width="2" height="1" fill="#fff"/>
<rect x="299" y="298.4" width="2" height="1" fill="#fff"/>
<rect x="299" y="309" width="2" height="1" fill="#fff"/>
<rect x="299" y="312.7" width="2" height="1" fill="#fff"/>
<rect x="299" y="316" width="2" height="1" fill="#fff"/>
<rect x="362" y="297.8" width="2" height="1" fill="#fff"/>
<rect x="362" y="301" width="2" height="1" fill="#fff"/>
<rect x="362" y="304.2" width="2" height="1" fill="#fff"/>
<rect x="362" y="315" width="2" height="1" fill="#fff"/>
<rect x="397" y="292" width="7" height="14" fill="#000"/>
<rect x="398" y="293" width="1" height="12" fill="#fff"/>
<rect x="398" y="293" width="5" height="1" fill="#fff"/>
<rect x="399" y="298.7" width="4" height="1.2" fill="#fff"/>
<rect x="398" y="304" width="5" height="1" fill="#fff"/>
<polygon points="399.8,306 402.4,306 403.2,316 405.5,322.5 396.8,322.5 399,316" fill="#000" shape-rendering="geometricPrecision"/>
<rect x="385" y="321.3" width="33.6" height="18.2" rx="3.5" fill="#000" shape-rendering="geometricPrecision"/>
<rect x="386.8" y="323" width="29.2" height="13.8" rx="1.8" fill="#fff" shape-rendering="geometricPrecision"/>
<text transform="translate(391.6,334.3) scale(0.6,1)" text-anchor="middle" font-size="14.2" fill="#000" stroke="#000" stroke-width="0.32">J</text>
<text transform="translate(400.4,334.3) scale(0.6,1)" text-anchor="middle" font-size="14.2" fill="#000" stroke="#000" stroke-width="0.32">P</text>
<text transform="translate(409.2,334.3) scale(0.69,1)" text-anchor="middle" font-size="14.2" fill="#000" stroke="#000" stroke-width="0.32">6</text>
<polygon points="400.1,323.4 401.1,311 402.1,323.4" fill="#fff" shape-rendering="geometricPrecision"/>
<rect x="206" y="334" width="24" height="19" fill="#000"/>
<rect x="207" y="335" width="5" height="1" fill="#fff"/>
<rect x="207" y="340" width="5" height="1" fill="#fff"/>
<rect x="207" y="346" width="5" height="1" fill="#fff"/>
<rect x="213" y="335" width="5" height="1" fill="#fff"/>
<rect x="213" y="340" width="5" height="1" fill="#fff"/>
<rect x="213" y="346" width="5" height="1" fill="#fff"/>
<rect x="219" y="335" width="4" height="1" fill="#fff"/>
<rect x="219" y="340" width="4" height="1" fill="#fff"/>
<rect x="219" y="346" width="4" height="1" fill="#fff"/>
<rect x="225" y="335" width="4" height="1" fill="#fff"/>
<rect x="225" y="340" width="4" height="1" fill="#fff"/>
<rect x="225" y="346" width="4" height="1" fill="#fff"/>
<rect x="208" y="348" width="3" height="3" fill="#fff"/>
<rect x="214" y="348" width="3" height="3" fill="#fff"/>
<rect x="220" y="348" width="2" height="3" fill="#fff"/>
<rect x="226" y="348" width="2" height="3" fill="#fff"/>
<rect x="224" y="335" width="1" height="17" fill="#fff"/>
<polygon points="204,360.5 211.8,352.4 216.4,352.4 209.5,364" fill="#000" shape-rendering="geometricPrecision"/>
<polygon points="205.77,361.63 213.49,352.9 213.94,352.92 207.73,362.87" fill="#fff" shape-rendering="geometricPrecision"/>
<polygon points="225.5,363 219.6,352.4 223.2,352.4 231.5,358.5" fill="#000" shape-rendering="geometricPrecision"/>
<polygon points="227.18,361.74 223.28,354.79 223.53,354.72 229.82,359.76" fill="#fff" shape-rendering="geometricPrecision"/>
<rect x="156.1" y="335.1" width="35.3" height="18.5" rx="3.5" fill="#000" shape-rendering="geometricPrecision"/>
<rect x="157.9" y="336.8" width="30.9" height="14.1" rx="1.8" fill="#fff" shape-rendering="geometricPrecision"/>
<text transform="translate(163.55,348.1) scale(0.6,1)" text-anchor="middle" font-size="14.2" fill="#000" stroke="#000" stroke-width="0.32">J</text>
<text transform="translate(172.35,348.1) scale(0.6,1)" text-anchor="middle" font-size="14.2" fill="#000" stroke="#000" stroke-width="0.32">P</text>
<text transform="translate(181.15,348.1) scale(0.69,1)" text-anchor="middle" font-size="14.2" fill="#000" stroke="#000" stroke-width="0.32">5</text>
<rect x="245.2" y="335" width="34.8" height="18" rx="2" fill="#000" shape-rendering="geometricPrecision"/>
<rect x="247.2" y="337" width="30.5" height="13.7" rx="1" fill="#fff" shape-rendering="geometricPrecision"/>
<text transform="translate(252.1,348) scale(0.6,1)" text-anchor="middle" font-size="14.2" fill="#000" stroke="#000" stroke-width="0.32">J</text>
<text transform="translate(260.9,348) scale(0.6,1)" text-anchor="middle" font-size="14.2" fill="#000" stroke="#000" stroke-width="0.32">P</text>
<text transform="translate(269.7,348) scale(0.69,1)" text-anchor="middle" font-size="14.2" fill="#000" stroke="#000" stroke-width="0.32">2</text>
<rect x="175" y="360" width="34" height="18.8" rx="3.5" fill="#000" shape-rendering="geometricPrecision"/>
<rect x="176.8" y="361.7" width="29.6" height="14.4" rx="1.8" fill="#fff" shape-rendering="geometricPrecision"/>
<text transform="translate(181.8,373) scale(0.6,1)" text-anchor="middle" font-size="14.2" fill="#000" stroke="#000" stroke-width="0.32">J</text>
<text transform="translate(190.6,373) scale(0.6,1)" text-anchor="middle" font-size="14.2" fill="#000" stroke="#000" stroke-width="0.32">P</text>
<text transform="translate(199.4,373) scale(0.69,1)" text-anchor="middle" font-size="14.2" fill="#000" stroke="#000" stroke-width="0.32">4</text>
<rect x="226.6" y="358.9" width="34.4" height="18.6" rx="3.5" fill="#000" shape-rendering="geometricPrecision"/>
<rect x="228.4" y="360.6" width="30" height="14.2" rx="1.8" fill="#fff" shape-rendering="geometricPrecision"/>
<text transform="translate(233.6,371.9) scale(0.6,1)" text-anchor="middle" font-size="14.2" fill="#000" stroke="#000" stroke-width="0.32">J</text>
<text transform="translate(242.4,371.9) scale(0.6,1)" text-anchor="middle" font-size="14.2" fill="#000" stroke="#000" stroke-width="0.32">P</text>
<text transform="translate(251.2,371.9) scale(0.69,1)" text-anchor="middle" font-size="14.2" fill="#000" stroke="#000" stroke-width="0.32">3</text>
<rect x="261" y="389" width="19" height="6" fill="#000"/>
<rect x="262.8" y="390.7" width="3.2" height="2.4" fill="#fff"/>
<rect x="267" y="390" width="1" height="4" fill="#fff"/>
<rect x="273" y="390" width="1" height="4" fill="#fff"/>
<rect x="278" y="390" width="1" height="4" fill="#fff"/>
<rect x="294" y="383.2" width="42.2" height="18.5" rx="3.5" fill="#000" shape-rendering="geometricPrecision"/>
<rect x="295.8" y="384.9" width="37.8" height="14.1" rx="1.8" fill="#fff" shape-rendering="geometricPrecision"/>
<text transform="translate(301.55,396.2) scale(0.6,1)" text-anchor="middle" font-size="14.2" fill="#000" stroke="#000" stroke-width="0.32">J</text>
<text transform="translate(309.65,396.2) scale(0.6,1)" text-anchor="middle" font-size="14.2" fill="#000" stroke="#000" stroke-width="0.32">P</text>
<text transform="translate(317.35,396.2) scale(0.69,1)" text-anchor="middle" font-size="14.2" fill="#000" stroke="#000" stroke-width="0.32">1</text>
<text transform="translate(325.85,396.2) scale(0.69,1)" text-anchor="middle" font-size="14.2" fill="#000" stroke="#000" stroke-width="0.32">2</text>
<rect x="69" y="408" width="96" height="95" fill="#000"/>
<rect x="70" y="409" width="94" height="93" fill="#fff"/>
<rect x="71.8" y="402" width="1" height="6" fill="#000"/>
<rect x="71.8" y="503" width="1" height="6.3" fill="#000"/>
<rect x="74.03" y="402" width="1" height="6" fill="#000"/>
<rect x="74.03" y="503" width="1" height="6.3" fill="#000"/>
<rect x="76.27" y="402" width="1" height="6" fill="#000"/>
<rect x="76.27" y="503" width="1" height="6.3" fill="#000"/>
<rect x="78.5" y="402" width="1" height="6" fill="#000"/>
<rect x="78.5" y="503" width="1" height="6.3" fill="#000"/>
<rect x="80.74" y="402" width="1" height="6" fill="#000"/>
<rect x="80.74" y="503" width="1" height="6.3" fill="#000"/>
<rect x="82.97" y="402" width="1" height="6" fill="#000"/>
<rect x="82.97" y="503" width="1" height="6.3" fill="#000"/>
<rect x="85.21" y="402" width="1" height="6" fill="#000"/>
<rect x="85.21" y="503" width="1" height="6.3" fill="#000"/>
<rect x="87.44" y="402" width="1" height="6" fill="#000"/>
<rect x="87.44" y="503" width="1" height="6.3" fill="#000"/>
<rect x="89.68" y="402" width="1" height="6" fill="#000"/>
<rect x="89.68" y="503" width="1" height="6.3" fill="#000"/>
<rect x="91.91" y="402" width="1" height="6" fill="#000"/>
<rect x="91.91" y="503" width="1" height="6.3" fill="#000"/>
<rect x="94.15" y="402" width="1" height="6" fill="#000"/>
<rect x="94.15" y="503" width="1" height="6.3" fill="#000"/>
<rect x="96.38" y="402" width="1" height="6" fill="#000"/>
<rect x="96.38" y="503" width="1" height="6.3" fill="#000"/>
<rect x="98.62" y="402" width="1" height="6" fill="#000"/>
<rect x="98.62" y="503" width="1" height="6.3" fill="#000"/>
<rect x="100.85" y="402" width="1" height="6" fill="#000"/>
<rect x="100.85" y="503" width="1" height="6.3" fill="#000"/>
<rect x="103.09" y="402" width="1" height="6" fill="#000"/>
<rect x="103.09" y="503" width="1" height="6.3" fill="#000"/>
<rect x="105.32" y="402" width="1" height="6" fill="#000"/>
<rect x="105.32" y="503" width="1" height="6.3" fill="#000"/>
<rect x="107.56" y="402" width="1" height="6" fill="#000"/>
<rect x="107.56" y="503" width="1" height="6.3" fill="#000"/>
<rect x="109.79" y="402" width="1" height="6" fill="#000"/>
<rect x="109.79" y="503" width="1" height="6.3" fill="#000"/>
<rect x="112.03" y="402" width="1" height="6" fill="#000"/>
<rect x="112.03" y="503" width="1" height="6.3" fill="#000"/>
<rect x="114.26" y="402" width="1" height="6" fill="#000"/>
<rect x="114.26" y="503" width="1" height="6.3" fill="#000"/>
<rect x="116.5" y="402" width="1" height="6" fill="#000"/>
<rect x="116.5" y="503" width="1" height="6.3" fill="#000"/>
<rect x="118.73" y="402" width="1" height="6" fill="#000"/>
<rect x="118.73" y="503" width="1" height="6.3" fill="#000"/>
<rect x="120.97" y="402" width="1" height="6" fill="#000"/>
<rect x="120.97" y="503" width="1" height="6.3" fill="#000"/>
<rect x="123.2" y="402" width="1" height="6" fill="#000"/>
<rect x="123.2" y="503" width="1" height="6.3" fill="#000"/>
<rect x="125.44" y="402" width="1" height="6" fill="#000"/>
<rect x="125.44" y="503" width="1" height="6.3" fill="#000"/>
<rect x="127.67" y="402" width="1" height="6" fill="#000"/>
<rect x="127.67" y="503" width="1" height="6.3" fill="#000"/>
<rect x="129.91" y="402" width="1" height="6" fill="#000"/>
<rect x="129.91" y="503" width="1" height="6.3" fill="#000"/>
<rect x="132.14" y="402" width="1" height="6" fill="#000"/>
<rect x="132.14" y="503" width="1" height="6.3" fill="#000"/>
<rect x="134.38" y="402" width="1" height="6" fill="#000"/>
<rect x="134.38" y="503" width="1" height="6.3" fill="#000"/>
<rect x="136.62" y="402" width="1" height="6" fill="#000"/>
<rect x="136.62" y="503" width="1" height="6.3" fill="#000"/>
<rect x="138.85" y="402" width="1" height="6" fill="#000"/>
<rect x="138.85" y="503" width="1" height="6.3" fill="#000"/>
<rect x="141.08" y="402" width="1" height="6" fill="#000"/>
<rect x="141.08" y="503" width="1" height="6.3" fill="#000"/>
<rect x="143.32" y="402" width="1" height="6" fill="#000"/>
<rect x="143.32" y="503" width="1" height="6.3" fill="#000"/>
<rect x="145.56" y="402" width="1" height="6" fill="#000"/>
<rect x="145.56" y="503" width="1" height="6.3" fill="#000"/>
<rect x="147.79" y="402" width="1" height="6" fill="#000"/>
<rect x="147.79" y="503" width="1" height="6.3" fill="#000"/>
<rect x="150.02" y="402" width="1" height="6" fill="#000"/>
<rect x="150.02" y="503" width="1" height="6.3" fill="#000"/>
<rect x="152.26" y="402" width="1" height="6" fill="#000"/>
<rect x="152.26" y="503" width="1" height="6.3" fill="#000"/>
<rect x="154.5" y="402" width="1" height="6" fill="#000"/>
<rect x="154.5" y="503" width="1" height="6.3" fill="#000"/>
<rect x="156.73" y="402" width="1" height="6" fill="#000"/>
<rect x="156.73" y="503" width="1" height="6.3" fill="#000"/>
<rect x="158.96" y="402" width="1" height="6" fill="#000"/>
<rect x="158.96" y="503" width="1" height="6.3" fill="#000"/>
<rect x="161.2" y="402" width="1" height="6" fill="#000"/>
<rect x="161.2" y="503" width="1" height="6.3" fill="#000"/>
<rect x="64" y="410" width="5" height="1" fill="#000"/>
<rect x="165" y="411" width="6" height="1" fill="#000"/>
<rect x="64" y="412.21" width="5" height="1" fill="#000"/>
<rect x="165" y="413.21" width="6" height="1" fill="#000"/>
<rect x="64" y="414.43" width="5" height="1" fill="#000"/>
<rect x="165" y="415.43" width="6" height="1" fill="#000"/>
<rect x="64" y="416.64" width="5" height="1" fill="#000"/>
<rect x="165" y="417.64" width="6" height="1" fill="#000"/>
<rect x="64" y="418.85" width="5" height="1" fill="#000"/>
<rect x="165" y="419.85" width="6" height="1" fill="#000"/>
<rect x="64" y="421.06" width="5" height="1" fill="#000"/>
<rect x="165" y="422.06" width="6" height="1" fill="#000"/>
<rect x="64" y="423.28" width="5" height="1" fill="#000"/>
<rect x="165" y="424.28" width="6" height="1" fill="#000"/>
<rect x="64" y="425.49" width="5" height="1" fill="#000"/>
<rect x="165" y="426.49" width="6" height="1" fill="#000"/>
<rect x="64" y="427.7" width="5" height="1" fill="#000"/>
<rect x="165" y="428.7" width="6" height="1" fill="#000"/>
<rect x="64" y="429.92" width="5" height="1" fill="#000"/>
<rect x="165" y="430.92" width="6" height="1" fill="#000"/>
<rect x="64" y="432.13" width="5" height="1" fill="#000"/>
<rect x="165" y="433.13" width="6" height="1" fill="#000"/>
<rect x="64" y="434.34" width="5" height="1" fill="#000"/>
<rect x="165" y="435.34" width="6" height="1" fill="#000"/>
<rect x="64" y="436.56" width="5" height="1" fill="#000"/>
<rect x="165" y="437.56" width="6" height="1" fill="#000"/>
<rect x="64" y="438.77" width="5" height="1" fill="#000"/>
<rect x="165" y="439.77" width="6" height="1" fill="#000"/>
<rect x="64" y="440.98" width="5" height="1" fill="#000"/>
<rect x="165" y="441.98" width="6" height="1" fill="#000"/>
<rect x="64" y="443.19" width="5" height="1" fill="#000"/>
<rect x="165" y="444.19" width="6" height="1" fill="#000"/>
<rect x="64" y="445.41" width="5" height="1" fill="#000"/>
<rect x="165" y="446.41" width="6" height="1" fill="#000"/>
<rect x="64" y="447.62" width="5" height="1" fill="#000"/>
<rect x="165" y="448.62" width="6" height="1" fill="#000"/>
<rect x="64" y="449.83" width="5" height="1" fill="#000"/>
<rect x="165" y="450.83" width="6" height="1" fill="#000"/>
<rect x="64" y="452.05" width="5" height="1" fill="#000"/>
<rect x="165" y="453.05" width="6" height="1" fill="#000"/>
<rect x="64" y="454.26" width="5" height="1" fill="#000"/>
<rect x="165" y="455.26" width="6" height="1" fill="#000"/>
<rect x="64" y="456.47" width="5" height="1" fill="#000"/>
<rect x="165" y="457.47" width="6" height="1" fill="#000"/>
<rect x="64" y="458.69" width="5" height="1" fill="#000"/>
<rect x="165" y="459.69" width="6" height="1" fill="#000"/>
<rect x="64" y="460.9" width="5" height="1" fill="#000"/>
<rect x="165" y="461.9" width="6" height="1" fill="#000"/>
<rect x="64" y="463.11" width="5" height="1" fill="#000"/>
<rect x="165" y="464.11" width="6" height="1" fill="#000"/>
<rect x="64" y="465.32" width="5" height="1" fill="#000"/>
<rect x="165" y="466.32" width="6" height="1" fill="#000"/>
<rect x="64" y="467.54" width="5" height="1" fill="#000"/>
<rect x="165" y="468.54" width="6" height="1" fill="#000"/>
<rect x="64" y="469.75" width="5" height="1" fill="#000"/>
<rect x="165" y="470.75" width="6" height="1" fill="#000"/>
<rect x="64" y="471.96" width="5" height="1" fill="#000"/>
<rect x="165" y="472.96" width="6" height="1" fill="#000"/>
<rect x="64" y="474.18" width="5" height="1" fill="#000"/>
<rect x="165" y="475.18" width="6" height="1" fill="#000"/>
<rect x="64" y="476.39" width="5" height="1" fill="#000"/>
<rect x="165" y="477.39" width="6" height="1" fill="#000"/>
<rect x="64" y="478.6" width="5" height="1" fill="#000"/>
<rect x="165" y="479.6" width="6" height="1" fill="#000"/>
<rect x="64" y="480.82" width="5" height="1" fill="#000"/>
<rect x="165" y="481.82" width="6" height="1" fill="#000"/>
<rect x="64" y="483.03" width="5" height="1" fill="#000"/>
<rect x="165" y="484.03" width="6" height="1" fill="#000"/>
<rect x="64" y="485.24" width="5" height="1" fill="#000"/>
<rect x="165" y="486.24" width="6" height="1" fill="#000"/>
<rect x="64" y="487.45" width="5" height="1" fill="#000"/>
<rect x="165" y="488.45" width="6" height="1" fill="#000"/>
<rect x="64" y="489.67" width="5" height="1" fill="#000"/>
<rect x="165" y="490.67" width="6" height="1" fill="#000"/>
<rect x="64" y="491.88" width="5" height="1" fill="#000"/>
<rect x="165" y="492.88" width="6" height="1" fill="#000"/>
<rect x="64" y="494.09" width="5" height="1" fill="#000"/>
<rect x="165" y="495.09" width="6" height="1" fill="#000"/>
<rect x="64" y="496.31" width="5" height="1" fill="#000"/>
<rect x="165" y="497.31" width="6" height="1" fill="#000"/>
<rect x="64" y="498.52" width="5" height="1" fill="#000"/>
<rect x="165" y="499.52" width="6" height="1" fill="#000"/>
<circle cx="75.9" cy="497" r="3.4" fill="#fff" stroke="#000" stroke-width="1" shape-rendering="geometricPrecision"/>
<polygon points="103.2,445.9 131.7,445.9 133.9,448.1 133.9,462.6 131.7,464.8 103.2,464.8 101,462.6 101,448.1" fill="#000" shape-rendering="geometricPrecision"/>
<rect x="103" y="447.8" width="28.3" height="14.4" rx="1" fill="#fff" shape-rendering="geometricPrecision"/>
<text transform="translate(106.4,459.7) scale(0.62,1)" text-anchor="middle" font-size="13.8" fill="#000" stroke="#000" stroke-width="0.32">C</text>
<text transform="translate(115.5,459.7) scale(0.62,1)" text-anchor="middle" font-size="13.8" fill="#000" stroke="#000" stroke-width="0.32">P</text>
<text transform="translate(125.2,459.7) scale(0.7,1)" text-anchor="middle" font-size="13.8" fill="#000" stroke="#000" stroke-width="0.32">U</text>
<rect x="198" y="400" width="92.5" height="1.7" fill="#000"/>
<rect x="198.8" y="402.8" width="91.7" height="12.2" fill="#000"/>
<rect x="236" y="405" width="22" height="2.5" fill="#fff"/>
<rect x="235" y="409" width="24" height="5" fill="#fff"/>
<text transform="translate(267,412) scale(0.78,1)" text-anchor="middle" font-size="12.4" fill="#fff" stroke="#fff" stroke-width="0">A</text>
<text transform="translate(275.45,412) scale(0.78,1)" text-anchor="middle" font-size="12.4" fill="#fff" stroke="#fff" stroke-width="0">M</text>
<text transform="translate(283.9,412) scale(0.78,1)" text-anchor="middle" font-size="12.4" fill="#fff" stroke="#fff" stroke-width="0">P</text>
<rect x="198" y="416.2" width="93" height="1" fill="#000"/>
<rect x="188" y="407" width="7" height="91.5" fill="#000"/>
<rect x="189" y="408" width="5" height="89.5" fill="#fff"/>
<polygon points="188.5,498.5 195,498.5 195,504 193.5,504 189,499.8" fill="#000"/>
<rect x="192.8" y="501.5" width="1" height="2" fill="#fff"/>
<rect x="194" y="407" width="4" height="13" fill="#000"/>
<rect x="194" y="418" width="97" height="94" fill="#000"/>
<rect x="215" y="435" width="56" height="57" fill="#fff"/>
<rect x="291" y="414" width="3" height="19" fill="#000"/>
<rect x="294" y="416" width="1" height="15" fill="#000"/>
<rect x="292.2" y="415.5" width="1" height="1.5" fill="#fff"/>
<rect x="292.2" y="425" width="1" height="1.5" fill="#fff"/>
<rect x="292.2" y="430.5" width="1" height="1.5" fill="#fff"/>
<rect x="291" y="485" width="3" height="20.5" fill="#000"/>
<rect x="294" y="487" width="1" height="17" fill="#000"/>
<rect x="292.2" y="486.5" width="1" height="1.5" fill="#fff"/>
<rect x="292.2" y="497" width="1" height="1.5" fill="#fff"/>
<rect x="292.2" y="503" width="1" height="1.5" fill="#fff"/>
<rect x="200.4" y="420.1" width="2.2" height="2.2" fill="#fff" shape-rendering="geometricPrecision"/>
<rect x="205.59" y="420.1" width="2.2" height="2.2" fill="#fff" shape-rendering="geometricPrecision"/>
<rect x="210.78" y="420.1" width="2.2" height="2.2" fill="#fff" shape-rendering="geometricPrecision"/>
<rect x="215.97" y="420.1" width="2.2" height="2.2" fill="#fff" shape-rendering="geometricPrecision"/>
<rect x="221.16" y="420.1" width="2.2" height="2.2" fill="#fff" shape-rendering="geometricPrecision"/>
<rect x="226.35" y="420.1" width="2.2" height="2.2" fill="#fff" shape-rendering="geometricPrecision"/>
<rect x="231.54" y="420.1" width="2.2" height="2.2" fill="#fff" shape-rendering="geometricPrecision"/>
<rect x="236.73" y="420.1" width="2.2" height="2.2" fill="#fff" shape-rendering="geometricPrecision"/>
<rect x="241.92" y="420.1" width="2.2" height="2.2" fill="#fff" shape-rendering="geometricPrecision"/>
<rect x="247.11" y="420.1" width="2.2" height="2.2" fill="#fff" shape-rendering="geometricPrecision"/>
<rect x="252.3" y="420.1" width="2.2" height="2.2" fill="#fff" shape-rendering="geometricPrecision"/>
<rect x="257.49" y="420.1" width="2.2" height="2.2" fill="#fff" shape-rendering="geometricPrecision"/>
<rect x="262.68" y="420.1" width="2.2" height="2.2" fill="#fff" shape-rendering="geometricPrecision"/>
<rect x="267.87" y="420.1" width="2.2" height="2.2" fill="#fff" shape-rendering="geometricPrecision"/>
<rect x="273.06" y="420.1" width="2.2" height="2.2" fill="#fff" shape-rendering="geometricPrecision"/>
<rect x="278.25" y="420.1" width="2.2" height="2.2" fill="#fff" shape-rendering="geometricPrecision"/>
<rect x="283.44" y="420.1" width="2.2" height="2.2" fill="#fff" shape-rendering="geometricPrecision"/>
<rect x="200.4" y="425.4" width="2.2" height="2.2" fill="#fff" shape-rendering="geometricPrecision"/>
<rect x="205.59" y="425.4" width="2.2" height="2.2" fill="#fff" shape-rendering="geometricPrecision"/>
<rect x="210.78" y="425.4" width="2.2" height="2.2" fill="#fff" shape-rendering="geometricPrecision"/>
<rect x="215.97" y="425.4" width="2.2" height="2.2" fill="#fff" shape-rendering="geometricPrecision"/>
<rect x="221.16" y="425.4" width="2.2" height="2.2" fill="#fff" shape-rendering="geometricPrecision"/>
<rect x="226.35" y="425.4" width="2.2" height="2.2" fill="#fff" shape-rendering="geometricPrecision"/>
<rect x="231.54" y="425.4" width="2.2" height="2.2" fill="#fff" shape-rendering="geometricPrecision"/>
<rect x="236.73" y="425.4" width="2.2" height="2.2" fill="#fff" shape-rendering="geometricPrecision"/>
<rect x="241.92" y="425.4" width="2.2" height="2.2" fill="#fff" shape-rendering="geometricPrecision"/>
<rect x="247.11" y="425.4" width="2.2" height="2.2" fill="#fff" shape-rendering="geometricPrecision"/>
<rect x="252.3" y="425.4" width="2.2" height="2.2" fill="#fff" shape-rendering="geometricPrecision"/>
<rect x="257.49" y="425.4" width="2.2" height="2.2" fill="#fff" shape-rendering="geometricPrecision"/>
<rect x="262.68" y="425.4" width="2.2" height="2.2" fill="#fff" shape-rendering="geometricPrecision"/>
<rect x="267.87" y="425.4" width="2.2" height="2.2" fill="#fff" shape-rendering="geometricPrecision"/>
<rect x="273.06" y="425.4" width="2.2" height="2.2" fill="#fff" shape-rendering="geometricPrecision"/>
<rect x="278.25" y="425.4" width="2.2" height="2.2" fill="#fff" shape-rendering="geometricPrecision"/>
<rect x="283.44" y="425.4" width="2.2" height="2.2" fill="#fff" shape-rendering="geometricPrecision"/>
<rect x="200.4" y="430.7" width="2.2" height="2.2" fill="#fff" shape-rendering="geometricPrecision"/>
<rect x="205.59" y="430.7" width="2.2" height="2.2" fill="#fff" shape-rendering="geometricPrecision"/>
<rect x="210.78" y="430.7" width="2.2" height="2.2" fill="#fff" shape-rendering="geometricPrecision"/>
<rect x="215.97" y="430.7" width="2.2" height="2.2" fill="#fff" shape-rendering="geometricPrecision"/>
<rect x="221.16" y="430.7" width="2.2" height="2.2" fill="#fff" shape-rendering="geometricPrecision"/>
<rect x="226.35" y="430.7" width="2.2" height="2.2" fill="#fff" shape-rendering="geometricPrecision"/>
<rect x="231.54" y="430.7" width="2.2" height="2.2" fill="#fff" shape-rendering="geometricPrecision"/>
<rect x="236.73" y="430.7" width="2.2" height="2.2" fill="#fff" shape-rendering="geometricPrecision"/>
<rect x="241.92" y="430.7" width="2.2" height="2.2" fill="#fff" shape-rendering="geometricPrecision"/>
<rect x="247.11" y="430.7" width="2.2" height="2.2" fill="#fff" shape-rendering="geometricPrecision"/>
<rect x="252.3" y="430.7" width="2.2" height="2.2" fill="#fff" shape-rendering="geometricPrecision"/>
<rect x="257.49" y="430.7" width="2.2" height="2.2" fill="#fff" shape-rendering="geometricPrecision"/>
<rect x="262.68" y="430.7" width="2.2" height="2.2" fill="#fff" shape-rendering="geometricPrecision"/>
<rect x="267.87" y="430.7" width="2.2" height="2.2" fill="#fff" shape-rendering="geometricPrecision"/>
<rect x="273.06" y="430.7" width="2.2" height="2.2" fill="#fff" shape-rendering="geometricPrecision"/>
<rect x="278.25" y="430.7" width="2.2" height="2.2" fill="#fff" shape-rendering="geometricPrecision"/>
<rect x="283.44" y="430.7" width="2.2" height="2.2" fill="#fff" shape-rendering="geometricPrecision"/>
<rect x="200.4" y="436" width="2.2" height="2.2" fill="#fff" shape-rendering="geometricPrecision"/>
<rect x="205.59" y="436" width="2.2" height="2.2" fill="#fff" shape-rendering="geometricPrecision"/>
<rect x="210.78" y="436" width="2.2" height="2.2" fill="#fff" shape-rendering="geometricPrecision"/>
<rect x="273.06" y="436" width="2.2" height="2.2" fill="#fff" shape-rendering="geometricPrecision"/>
<rect x="278.25" y="436" width="2.2" height="2.2" fill="#fff" shape-rendering="geometricPrecision"/>
<rect x="283.44" y="436" width="2.2" height="2.2" fill="#fff" shape-rendering="geometricPrecision"/>
<rect x="200.4" y="441.3" width="2.2" height="2.2" fill="#fff" shape-rendering="geometricPrecision"/>
<rect x="205.59" y="441.3" width="2.2" height="2.2" fill="#fff" shape-rendering="geometricPrecision"/>
<rect x="210.78" y="441.3" width="2.2" height="2.2" fill="#fff" shape-rendering="geometricPrecision"/>
<rect x="273.06" y="441.3" width="2.2" height="2.2" fill="#fff" shape-rendering="geometricPrecision"/>
<rect x="278.25" y="441.3" width="2.2" height="2.2" fill="#fff" shape-rendering="geometricPrecision"/>
<rect x="283.44" y="441.3" width="2.2" height="2.2" fill="#fff" shape-rendering="geometricPrecision"/>
<rect x="200.4" y="446.6" width="2.2" height="2.2" fill="#fff" shape-rendering="geometricPrecision"/>
<rect x="205.59" y="446.6" width="2.2" height="2.2" fill="#fff" shape-rendering="geometricPrecision"/>
<rect x="210.78" y="446.6" width="2.2" height="2.2" fill="#fff" shape-rendering="geometricPrecision"/>
<rect x="273.06" y="446.6" width="2.2" height="2.2" fill="#fff" shape-rendering="geometricPrecision"/>
<rect x="278.25" y="446.6" width="2.2" height="2.2" fill="#fff" shape-rendering="geometricPrecision"/>
<rect x="283.44" y="446.6" width="2.2" height="2.2" fill="#fff" shape-rendering="geometricPrecision"/>
<rect x="200.4" y="451.9" width="2.2" height="2.2" fill="#fff" shape-rendering="geometricPrecision"/>
<rect x="205.59" y="451.9" width="2.2" height="2.2" fill="#fff" shape-rendering="geometricPrecision"/>
<rect x="210.78" y="451.9" width="2.2" height="2.2" fill="#fff" shape-rendering="geometricPrecision"/>
<rect x="273.06" y="451.9" width="2.2" height="2.2" fill="#fff" shape-rendering="geometricPrecision"/>
<rect x="278.25" y="451.9" width="2.2" height="2.2" fill="#fff" shape-rendering="geometricPrecision"/>
<rect x="283.44" y="451.9" width="2.2" height="2.2" fill="#fff" shape-rendering="geometricPrecision"/>
<rect x="200.4" y="457.2" width="2.2" height="2.2" fill="#fff" shape-rendering="geometricPrecision"/>
<rect x="205.59" y="457.2" width="2.2" height="2.2" fill="#fff" shape-rendering="geometricPrecision"/>
<rect x="210.78" y="457.2" width="2.2" height="2.2" fill="#fff" shape-rendering="geometricPrecision"/>
<rect x="273.06" y="457.2" width="2.2" height="2.2" fill="#fff" shape-rendering="geometricPrecision"/>
<rect x="278.25" y="457.2" width="2.2" height="2.2" fill="#fff" shape-rendering="geometricPrecision"/>
<rect x="283.44" y="457.2" width="2.2" height="2.2" fill="#fff" shape-rendering="geometricPrecision"/>
<rect x="200.4" y="462.5" width="2.2" height="2.2" fill="#fff" shape-rendering="geometricPrecision"/>
<rect x="205.59" y="462.5" width="2.2" height="2.2" fill="#fff" shape-rendering="geometricPrecision"/>
<rect x="210.78" y="462.5" width="2.2" height="2.2" fill="#fff" shape-rendering="geometricPrecision"/>
<rect x="273.06" y="462.5" width="2.2" height="2.2" fill="#fff" shape-rendering="geometricPrecision"/>
<rect x="278.25" y="462.5" width="2.2" height="2.2" fill="#fff" shape-rendering="geometricPrecision"/>
<rect x="283.44" y="462.5" width="2.2" height="2.2" fill="#fff" shape-rendering="geometricPrecision"/>
<rect x="200.4" y="467.8" width="2.2" height="2.2" fill="#fff" shape-rendering="geometricPrecision"/>
<rect x="205.59" y="467.8" width="2.2" height="2.2" fill="#fff" shape-rendering="geometricPrecision"/>
<rect x="210.78" y="467.8" width="2.2" height="2.2" fill="#fff" shape-rendering="geometricPrecision"/>
<rect x="273.06" y="467.8" width="2.2" height="2.2" fill="#fff" shape-rendering="geometricPrecision"/>
<rect x="278.25" y="467.8" width="2.2" height="2.2" fill="#fff" shape-rendering="geometricPrecision"/>
<rect x="283.44" y="467.8" width="2.2" height="2.2" fill="#fff" shape-rendering="geometricPrecision"/>
<rect x="200.4" y="473.1" width="2.2" height="2.2" fill="#fff" shape-rendering="geometricPrecision"/>
<rect x="205.59" y="473.1" width="2.2" height="2.2" fill="#fff" shape-rendering="geometricPrecision"/>
<rect x="210.78" y="473.1" width="2.2" height="2.2" fill="#fff" shape-rendering="geometricPrecision"/>
<rect x="273.06" y="473.1" width="2.2" height="2.2" fill="#fff" shape-rendering="geometricPrecision"/>
<rect x="278.25" y="473.1" width="2.2" height="2.2" fill="#fff" shape-rendering="geometricPrecision"/>
<rect x="283.44" y="473.1" width="2.2" height="2.2" fill="#fff" shape-rendering="geometricPrecision"/>
<rect x="200.4" y="478.4" width="2.2" height="2.2" fill="#fff" shape-rendering="geometricPrecision"/>
<rect x="205.59" y="478.4" width="2.2" height="2.2" fill="#fff" shape-rendering="geometricPrecision"/>
<rect x="210.78" y="478.4" width="2.2" height="2.2" fill="#fff" shape-rendering="geometricPrecision"/>
<rect x="273.06" y="478.4" width="2.2" height="2.2" fill="#fff" shape-rendering="geometricPrecision"/>
<rect x="278.25" y="478.4" width="2.2" height="2.2" fill="#fff" shape-rendering="geometricPrecision"/>
<rect x="283.44" y="478.4" width="2.2" height="2.2" fill="#fff" shape-rendering="geometricPrecision"/>
<rect x="200.4" y="483.7" width="2.2" height="2.2" fill="#fff" shape-rendering="geometricPrecision"/>
<rect x="205.59" y="483.7" width="2.2" height="2.2" fill="#fff" shape-rendering="geometricPrecision"/>
<rect x="210.78" y="483.7" width="2.2" height="2.2" fill="#fff" shape-rendering="geometricPrecision"/>
<rect x="273.06" y="483.7" width="2.2" height="2.2" fill="#fff" shape-rendering="geometricPrecision"/>
<rect x="278.25" y="483.7" width="2.2" height="2.2" fill="#fff" shape-rendering="geometricPrecision"/>
<rect x="283.44" y="483.7" width="2.2" height="2.2" fill="#fff" shape-rendering="geometricPrecision"/>
<rect x="200.4" y="489" width="2.2" height="2.2" fill="#fff" shape-rendering="geometricPrecision"/>
<rect x="205.59" y="489" width="2.2" height="2.2" fill="#fff" shape-rendering="geometricPrecision"/>
<rect x="210.78" y="489" width="2.2" height="2.2" fill="#fff" shape-rendering="geometricPrecision"/>
<rect x="273.06" y="489" width="2.2" height="2.2" fill="#fff" shape-rendering="geometricPrecision"/>
<rect x="278.25" y="489" width="2.2" height="2.2" fill="#fff" shape-rendering="geometricPrecision"/>
<rect x="283.44" y="489" width="2.2" height="2.2" fill="#fff" shape-rendering="geometricPrecision"/>
<rect x="200.4" y="494.3" width="2.2" height="2.2" fill="#fff" shape-rendering="geometricPrecision"/>
<rect x="205.59" y="494.3" width="2.2" height="2.2" fill="#fff" shape-rendering="geometricPrecision"/>
<rect x="210.78" y="494.3" width="2.2" height="2.2" fill="#fff" shape-rendering="geometricPrecision"/>
<rect x="215.97" y="494.3" width="2.2" height="2.2" fill="#fff" shape-rendering="geometricPrecision"/>
<rect x="221.16" y="494.3" width="2.2" height="2.2" fill="#fff" shape-rendering="geometricPrecision"/>
<rect x="226.35" y="494.3" width="2.2" height="2.2" fill="#fff" shape-rendering="geometricPrecision"/>
<rect x="231.54" y="494.3" width="2.2" height="2.2" fill="#fff" shape-rendering="geometricPrecision"/>
<rect x="236.73" y="494.3" width="2.2" height="2.2" fill="#fff" shape-rendering="geometricPrecision"/>
<rect x="241.92" y="494.3" width="2.2" height="2.2" fill="#fff" shape-rendering="geometricPrecision"/>
<rect x="247.11" y="494.3" width="2.2" height="2.2" fill="#fff" shape-rendering="geometricPrecision"/>
<rect x="252.3" y="494.3" width="2.2" height="2.2" fill="#fff" shape-rendering="geometricPrecision"/>
<rect x="257.49" y="494.3" width="2.2" height="2.2" fill="#fff" shape-rendering="geometricPrecision"/>
<rect x="262.68" y="494.3" width="2.2" height="2.2" fill="#fff" shape-rendering="geometricPrecision"/>
<rect x="267.87" y="494.3" width="2.2" height="2.2" fill="#fff" shape-rendering="geometricPrecision"/>
<rect x="273.06" y="494.3" width="2.2" height="2.2" fill="#fff" shape-rendering="geometricPrecision"/>
<rect x="278.25" y="494.3" width="2.2" height="2.2" fill="#fff" shape-rendering="geometricPrecision"/>
<rect x="283.44" y="494.3" width="2.2" height="2.2" fill="#fff" shape-rendering="geometricPrecision"/>
<rect x="200.4" y="499.6" width="2.2" height="2.2" fill="#fff" shape-rendering="geometricPrecision"/>
<rect x="205.59" y="499.6" width="2.2" height="2.2" fill="#fff" shape-rendering="geometricPrecision"/>
<rect x="210.78" y="499.6" width="2.2" height="2.2" fill="#fff" shape-rendering="geometricPrecision"/>
<rect x="215.97" y="499.6" width="2.2" height="2.2" fill="#fff" shape-rendering="geometricPrecision"/>
<rect x="221.16" y="499.6" width="2.2" height="2.2" fill="#fff" shape-rendering="geometricPrecision"/>
<rect x="226.35" y="499.6" width="2.2" height="2.2" fill="#fff" shape-rendering="geometricPrecision"/>
<rect x="231.54" y="499.6" width="2.2" height="2.2" fill="#fff" shape-rendering="geometricPrecision"/>
<rect x="236.73" y="499.6" width="2.2" height="2.2" fill="#fff" shape-rendering="geometricPrecision"/>
<rect x="241.92" y="499.6" width="2.2" height="2.2" fill="#fff" shape-rendering="geometricPrecision"/>
<rect x="247.11" y="499.6" width="2.2" height="2.2" fill="#fff" shape-rendering="geometricPrecision"/>
<rect x="252.3" y="499.6" width="2.2" height="2.2" fill="#fff" shape-rendering="geometricPrecision"/>
<rect x="257.49" y="499.6" width="2.2" height="2.2" fill="#fff" shape-rendering="geometricPrecision"/>
<rect x="262.68" y="499.6" width="2.2" height="2.2" fill="#fff" shape-rendering="geometricPrecision"/>
<rect x="267.87" y="499.6" width="2.2" height="2.2" fill="#fff" shape-rendering="geometricPrecision"/>
<rect x="273.06" y="499.6" width="2.2" height="2.2" fill="#fff" shape-rendering="geometricPrecision"/>
<rect x="278.25" y="499.6" width="2.2" height="2.2" fill="#fff" shape-rendering="geometricPrecision"/>
<rect x="283.44" y="499.6" width="2.2" height="2.2" fill="#fff" shape-rendering="geometricPrecision"/>
<rect x="200.4" y="504.9" width="2.2" height="2.2" fill="#fff" shape-rendering="geometricPrecision"/>
<rect x="205.59" y="504.9" width="2.2" height="2.2" fill="#fff" shape-rendering="geometricPrecision"/>
<rect x="210.78" y="504.9" width="2.2" height="2.2" fill="#fff" shape-rendering="geometricPrecision"/>
<rect x="215.97" y="504.9" width="2.2" height="2.2" fill="#fff" shape-rendering="geometricPrecision"/>
<rect x="221.16" y="504.9" width="2.2" height="2.2" fill="#fff" shape-rendering="geometricPrecision"/>
<rect x="226.35" y="504.9" width="2.2" height="2.2" fill="#fff" shape-rendering="geometricPrecision"/>
<rect x="231.54" y="504.9" width="2.2" height="2.2" fill="#fff" shape-rendering="geometricPrecision"/>
<rect x="236.73" y="504.9" width="2.2" height="2.2" fill="#fff" shape-rendering="geometricPrecision"/>
<rect x="241.92" y="504.9" width="2.2" height="2.2" fill="#fff" shape-rendering="geometricPrecision"/>
<rect x="247.11" y="504.9" width="2.2" height="2.2" fill="#fff" shape-rendering="geometricPrecision"/>
<rect x="252.3" y="504.9" width="2.2" height="2.2" fill="#fff" shape-rendering="geometricPrecision"/>
<rect x="257.49" y="504.9" width="2.2" height="2.2" fill="#fff" shape-rendering="geometricPrecision"/>
<rect x="262.68" y="504.9" width="2.2" height="2.2" fill="#fff" shape-rendering="geometricPrecision"/>
<rect x="267.87" y="504.9" width="2.2" height="2.2" fill="#fff" shape-rendering="geometricPrecision"/>
<rect x="273.06" y="504.9" width="2.2" height="2.2" fill="#fff" shape-rendering="geometricPrecision"/>
<rect x="278.25" y="504.9" width="2.2" height="2.2" fill="#fff" shape-rendering="geometricPrecision"/>
<rect x="283.44" y="504.9" width="2.2" height="2.2" fill="#fff" shape-rendering="geometricPrecision"/>
<circle cx="218" cy="487.8" r="2" fill="#000" shape-rendering="geometricPrecision"/>
<rect x="216" y="488" width="4" height="3" fill="#000"/>
<polygon points="228.2,453.9 256.9,453.9 259.1,456.1 259.1,470.6 256.9,472.8 228.2,472.8 226,470.6 226,456.1" fill="#000" shape-rendering="geometricPrecision"/>
<rect x="228.8" y="455.7" width="28.5" height="14.5" rx="1" fill="#fff" shape-rendering="geometricPrecision"/>
<text transform="translate(232.4,466.7) scale(0.62,1)" text-anchor="middle" font-size="13.8" fill="#000" stroke="#000" stroke-width="0.32">C</text>
<text transform="translate(242.4,466.7) scale(0.62,1)" text-anchor="middle" font-size="13.8" fill="#000" stroke="#000" stroke-width="0.32">P</text>
<text transform="translate(251.2,466.7) scale(0.7,1)" text-anchor="middle" font-size="13.8" fill="#000" stroke="#000" stroke-width="0.32">U</text>
<rect x="355" y="358" width="227" height="19" fill="#000"/>
<rect x="356" y="359" width="225" height="17" fill="#fff"/>
<rect x="355" y="365" width="7.5" height="1" fill="#000"/>
<rect x="355" y="372.4" width="7.5" height="1" fill="#000"/>
<rect x="362" y="358" width="1" height="15.4" fill="#000"/>
<rect x="362.2" y="373.4" width="1.1" height="1.4" fill="#000"/>
<rect x="364" y="358" width="2" height="17" fill="#000"/>
<polygon points="366,363 369,363 369,365.4 373,365.4 373,363 375.8,363 375.8,372.7 366,372.7" fill="#000"/>
<polygon points="367,364 368,364 368,366.4 374,366.4 374,364 374.8,364 374.8,371.7 367,371.7" fill="#fff"/>
<rect x="373" y="358" width="1" height="5" fill="#000"/>
<rect x="381" y="360.2" width="174" height="6.8" fill="#000"/>
<rect x="379.8" y="366" width="176.2" height="7.8" rx="1.5" fill="#000"/>
<rect x="382.7" y="367.2" width="4.4" height="5.6" fill="#fff"/>
<rect x="384.4" y="361.2" width="1" height="4" fill="#fff"/>
<rect x="388.67" y="367.2" width="4.4" height="5.6" fill="#fff"/>
<rect x="390.37" y="361.2" width="1" height="4" fill="#fff"/>
<rect x="394.64" y="367.2" width="4.4" height="5.6" fill="#fff"/>
<rect x="396.34" y="361.2" width="1.8" height="4" fill="#fff"/>
<rect x="400.61" y="367.2" width="4.4" height="5.6" fill="#fff"/>
<rect x="402.31" y="361.2" width="1" height="4" fill="#fff"/>
<rect x="406.58" y="367.2" width="4.4" height="5.6" fill="#fff"/>
<rect x="408.28" y="361.2" width="1" height="4" fill="#fff"/>
<rect x="412.55" y="367.2" width="4.4" height="5.6" fill="#fff"/>
<rect x="414.25" y="361.2" width="1.8" height="4" fill="#fff"/>
<rect x="418.52" y="367.2" width="4.4" height="5.6" fill="#fff"/>
<rect x="420.22" y="361.2" width="1" height="4" fill="#fff"/>
<rect x="424.49" y="367.2" width="4.4" height="5.6" fill="#fff"/>
<rect x="426.19" y="361.2" width="1" height="4" fill="#fff"/>
<rect x="430.46" y="367.2" width="4.4" height="5.6" fill="#fff"/>
<rect x="432.16" y="361.2" width="1.8" height="4" fill="#fff"/>
<rect x="436.43" y="367.2" width="4.4" height="5.6" fill="#fff"/>
<rect x="438.13" y="361.2" width="1" height="4" fill="#fff"/>
<rect x="442.4" y="367.2" width="4.4" height="5.6" fill="#fff"/>
<rect x="444.1" y="361.2" width="1" height="4" fill="#fff"/>
<rect x="448.37" y="367.2" width="4.4" height="5.6" fill="#fff"/>
<rect x="450.07" y="361.2" width="1.8" height="4" fill="#fff"/>
<rect x="454.34" y="367.2" width="4.4" height="5.6" fill="#fff"/>
<rect x="456.04" y="361.2" width="1" height="4" fill="#fff"/>
<rect x="460.31" y="367.2" width="4.4" height="5.6" fill="#fff"/>
<rect x="462.01" y="361.2" width="1" height="4" fill="#fff"/>
<rect x="466.28" y="367.2" width="4.4" height="5.6" fill="#fff"/>
<rect x="467.98" y="361.2" width="1.8" height="4" fill="#fff"/>
<rect x="472.25" y="367.2" width="4.4" height="5.6" fill="#fff"/>
<rect x="473.95" y="361.2" width="1" height="4" fill="#fff"/>
<rect x="478.22" y="367.2" width="4.4" height="5.6" fill="#fff"/>
<rect x="479.92" y="361.2" width="1" height="4" fill="#fff"/>
<rect x="484.19" y="367.2" width="4.4" height="5.6" fill="#fff"/>
<rect x="485.89" y="361.2" width="1.8" height="4" fill="#fff"/>
<rect x="490.16" y="367.2" width="4.4" height="5.6" fill="#fff"/>
<rect x="491.86" y="361.2" width="1" height="4" fill="#fff"/>
<rect x="496.13" y="367.2" width="4.4" height="5.6" fill="#fff"/>
<rect x="497.83" y="361.2" width="1" height="4" fill="#fff"/>
<rect x="502.1" y="367.2" width="4.4" height="5.6" fill="#fff"/>
<rect x="503.8" y="361.2" width="1.8" height="4" fill="#fff"/>
<rect x="508.07" y="367.2" width="4.4" height="5.6" fill="#fff"/>
<rect x="509.77" y="361.2" width="1" height="4" fill="#fff"/>
<rect x="514.04" y="367.2" width="4.4" height="5.6" fill="#fff"/>
<rect x="515.74" y="361.2" width="1" height="4" fill="#fff"/>
<rect x="520.01" y="367.2" width="4.4" height="5.6" fill="#fff"/>
<rect x="521.71" y="361.2" width="1.8" height="4" fill="#fff"/>
<rect x="525.98" y="367.2" width="4.4" height="5.6" fill="#fff"/>
<rect x="527.68" y="361.2" width="1" height="4" fill="#fff"/>
<rect x="531.95" y="367.2" width="4.4" height="5.6" fill="#fff"/>
<rect x="533.65" y="361.2" width="1" height="4" fill="#fff"/>
<rect x="537.92" y="367.2" width="4.4" height="5.6" fill="#fff"/>
<rect x="539.62" y="361.2" width="1.8" height="4" fill="#fff"/>
<rect x="543.89" y="367.2" width="4.4" height="5.6" fill="#fff"/>
<rect x="545.59" y="361.2" width="1" height="4" fill="#fff"/>
<rect x="549.86" y="367.2" width="4.4" height="5.6" fill="#fff"/>
<rect x="551.56" y="361.2" width="1" height="4" fill="#fff"/>
<rect x="381" y="367.2" width="0.8" height="5.3" fill="#fff"/>
<polygon points="569.8,363 566.8,363 566.8,366 562.8,366 562.8,363 560,363 560,373.5 569.8,373.5" fill="#000"/>
<polygon points="568.8,364 567.8,364 567.8,367 561.8,367 561.8,364 561,364 561,372.5 568.8,372.5" fill="#fff"/>
<rect x="562" y="358" width="1" height="5" fill="#000"/>
<rect x="569.4" y="358" width="3.4" height="17" fill="#000"/>
<rect x="572.8" y="365" width="9.2" height="1" fill="#000"/>
<rect x="572.8" y="372.2" width="9.2" height="1" fill="#000"/>
<rect x="355" y="378" width="227" height="19" fill="#000"/>
<rect x="356" y="379" width="225" height="17" fill="#fff"/>
<rect x="355" y="385" width="7.5" height="1" fill="#000"/>
<rect x="355" y="392.4" width="7.5" height="1" fill="#000"/>
<rect x="362" y="378" width="1" height="15.4" fill="#000"/>
<rect x="362.2" y="393.4" width="1.1" height="1.4" fill="#000"/>
<rect x="364" y="378" width="2" height="17" fill="#000"/>
<polygon points="366,383 369,383 369,385.4 373,385.4 373,383 375.8,383 375.8,392.7 366,392.7" fill="#000"/>
<polygon points="367,384 368,384 368,386.4 374,386.4 374,384 374.8,384 374.8,391.7 367,391.7" fill="#fff"/>
<rect x="373" y="378" width="1" height="5" fill="#000"/>
<rect x="381" y="380.2" width="174" height="6.8" fill="#000"/>
<rect x="379.8" y="386" width="176.2" height="7.8" rx="1.5" fill="#000"/>
<rect x="382.7" y="387.2" width="4.4" height="5.6" fill="#fff"/>
<rect x="384.4" y="381.2" width="1" height="4" fill="#fff"/>
<rect x="388.67" y="387.2" width="4.4" height="5.6" fill="#fff"/>
<rect x="390.37" y="381.2" width="1" height="4" fill="#fff"/>
<rect x="394.64" y="387.2" width="4.4" height="5.6" fill="#fff"/>
<rect x="396.34" y="381.2" width="1.8" height="4" fill="#fff"/>
<rect x="400.61" y="387.2" width="4.4" height="5.6" fill="#fff"/>
<rect x="402.31" y="381.2" width="1" height="4" fill="#fff"/>
<rect x="406.58" y="387.2" width="4.4" height="5.6" fill="#fff"/>
<rect x="408.28" y="381.2" width="1" height="4" fill="#fff"/>
<rect x="412.55" y="387.2" width="4.4" height="5.6" fill="#fff"/>
<rect x="414.25" y="381.2" width="1.8" height="4" fill="#fff"/>
<rect x="418.52" y="387.2" width="4.4" height="5.6" fill="#fff"/>
<rect x="420.22" y="381.2" width="1" height="4" fill="#fff"/>
<rect x="424.49" y="387.2" width="4.4" height="5.6" fill="#fff"/>
<rect x="426.19" y="381.2" width="1" height="4" fill="#fff"/>
<rect x="430.46" y="387.2" width="4.4" height="5.6" fill="#fff"/>
<rect x="432.16" y="381.2" width="1.8" height="4" fill="#fff"/>
<rect x="436.43" y="387.2" width="4.4" height="5.6" fill="#fff"/>
<rect x="438.13" y="381.2" width="1" height="4" fill="#fff"/>
<rect x="442.4" y="387.2" width="4.4" height="5.6" fill="#fff"/>
<rect x="444.1" y="381.2" width="1" height="4" fill="#fff"/>
<rect x="448.37" y="387.2" width="4.4" height="5.6" fill="#fff"/>
<rect x="450.07" y="381.2" width="1.8" height="4" fill="#fff"/>
<rect x="454.34" y="387.2" width="4.4" height="5.6" fill="#fff"/>
<rect x="456.04" y="381.2" width="1" height="4" fill="#fff"/>
<rect x="460.31" y="387.2" width="4.4" height="5.6" fill="#fff"/>
<rect x="462.01" y="381.2" width="1" height="4" fill="#fff"/>
<rect x="466.28" y="387.2" width="4.4" height="5.6" fill="#fff"/>
<rect x="467.98" y="381.2" width="1.8" height="4" fill="#fff"/>
<rect x="472.25" y="387.2" width="4.4" height="5.6" fill="#fff"/>
<rect x="473.95" y="381.2" width="1" height="4" fill="#fff"/>
<rect x="478.22" y="387.2" width="4.4" height="5.6" fill="#fff"/>
<rect x="479.92" y="381.2" width="1" height="4" fill="#fff"/>
<rect x="484.19" y="387.2" width="4.4" height="5.6" fill="#fff"/>
<rect x="485.89" y="381.2" width="1.8" height="4" fill="#fff"/>
<rect x="490.16" y="387.2" width="4.4" height="5.6" fill="#fff"/>
<rect x="491.86" y="381.2" width="1" height="4" fill="#fff"/>
<rect x="496.13" y="387.2" width="4.4" height="5.6" fill="#fff"/>
<rect x="497.83" y="381.2" width="1" height="4" fill="#fff"/>
<rect x="502.1" y="387.2" width="4.4" height="5.6" fill="#fff"/>
<rect x="503.8" y="381.2" width="1.8" height="4" fill="#fff"/>
<rect x="508.07" y="387.2" width="4.4" height="5.6" fill="#fff"/>
<rect x="509.77" y="381.2" width="1" height="4" fill="#fff"/>
<rect x="514.04" y="387.2" width="4.4" height="5.6" fill="#fff"/>
<rect x="515.74" y="381.2" width="1" height="4" fill="#fff"/>
<rect x="520.01" y="387.2" width="4.4" height="5.6" fill="#fff"/>
<rect x="521.71" y="381.2" width="1.8" height="4" fill="#fff"/>
<rect x="525.98" y="387.2" width="4.4" height="5.6" fill="#fff"/>
<rect x="527.68" y="381.2" width="1" height="4" fill="#fff"/>
<rect x="531.95" y="387.2" width="4.4" height="5.6" fill="#fff"/>
<rect x="533.65" y="381.2" width="1" height="4" fill="#fff"/>
<rect x="537.92" y="387.2" width="4.4" height="5.6" fill="#fff"/>
<rect x="539.62" y="381.2" width="1.8" height="4" fill="#fff"/>
<rect x="543.89" y="387.2" width="4.4" height="5.6" fill="#fff"/>
<rect x="545.59" y="381.2" width="1" height="4" fill="#fff"/>
<rect x="549.86" y="387.2" width="4.4" height="5.6" fill="#fff"/>
<rect x="551.56" y="381.2" width="1" height="4" fill="#fff"/>
<rect x="381" y="387.2" width="0.8" height="5.3" fill="#fff"/>
<polygon points="569.8,383 566.8,383 566.8,386 562.8,386 562.8,383 560,383 560,393.5 569.8,393.5" fill="#000"/>
<polygon points="568.8,384 567.8,384 567.8,387 561.8,387 561.8,384 561,384 561,392.5 568.8,392.5" fill="#fff"/>
<rect x="562" y="378" width="1" height="5" fill="#000"/>
<rect x="569.4" y="378" width="3.4" height="17" fill="#000"/>
<rect x="572.8" y="385" width="9.2" height="1" fill="#000"/>
<rect x="572.8" y="392.2" width="9.2" height="1" fill="#000"/>
<rect x="355" y="398" width="227" height="19" fill="#000"/>
<rect x="356" y="399" width="225" height="17" fill="#fff"/>
<rect x="355" y="405" width="7.5" height="1" fill="#000"/>
<rect x="355" y="412.4" width="7.5" height="1" fill="#000"/>
<rect x="362" y="398" width="1" height="15.4" fill="#000"/>
<rect x="362.2" y="413.4" width="1.1" height="1.4" fill="#000"/>
<rect x="364" y="398" width="2" height="17" fill="#000"/>
<polygon points="366,403 369,403 369,405.4 373,405.4 373,403 375.8,403 375.8,412.7 366,412.7" fill="#000"/>
<polygon points="367,404 368,404 368,406.4 374,406.4 374,404 374.8,404 374.8,411.7 367,411.7" fill="#fff"/>
<rect x="373" y="398" width="1" height="5" fill="#000"/>
<rect x="381" y="400.2" width="174" height="6.8" fill="#000"/>
<rect x="379.8" y="406" width="176.2" height="7.8" rx="1.5" fill="#000"/>
<rect x="382.7" y="407.2" width="4.4" height="5.6" fill="#fff"/>
<rect x="384.4" y="401.2" width="1" height="4" fill="#fff"/>
<rect x="388.67" y="407.2" width="4.4" height="5.6" fill="#fff"/>
<rect x="390.37" y="401.2" width="1" height="4" fill="#fff"/>
<rect x="394.64" y="407.2" width="4.4" height="5.6" fill="#fff"/>
<rect x="396.34" y="401.2" width="1.8" height="4" fill="#fff"/>
<rect x="400.61" y="407.2" width="4.4" height="5.6" fill="#fff"/>
<rect x="402.31" y="401.2" width="1" height="4" fill="#fff"/>
<rect x="406.58" y="407.2" width="4.4" height="5.6" fill="#fff"/>
<rect x="408.28" y="401.2" width="1" height="4" fill="#fff"/>
<rect x="412.55" y="407.2" width="4.4" height="5.6" fill="#fff"/>
<rect x="414.25" y="401.2" width="1.8" height="4" fill="#fff"/>
<rect x="418.52" y="407.2" width="4.4" height="5.6" fill="#fff"/>
<rect x="420.22" y="401.2" width="1" height="4" fill="#fff"/>
<rect x="424.49" y="407.2" width="4.4" height="5.6" fill="#fff"/>
<rect x="426.19" y="401.2" width="1" height="4" fill="#fff"/>
<rect x="430.46" y="407.2" width="4.4" height="5.6" fill="#fff"/>
<rect x="432.16" y="401.2" width="1.8" height="4" fill="#fff"/>
<rect x="436.43" y="407.2" width="4.4" height="5.6" fill="#fff"/>
<rect x="438.13" y="401.2" width="1" height="4" fill="#fff"/>
<rect x="442.4" y="407.2" width="4.4" height="5.6" fill="#fff"/>
<rect x="444.1" y="401.2" width="1" height="4" fill="#fff"/>
<rect x="448.37" y="407.2" width="4.4" height="5.6" fill="#fff"/>
<rect x="450.07" y="401.2" width="1.8" height="4" fill="#fff"/>
<rect x="454.34" y="407.2" width="4.4" height="5.6" fill="#fff"/>
<rect x="456.04" y="401.2" width="1" height="4" fill="#fff"/>
<rect x="460.31" y="407.2" width="4.4" height="5.6" fill="#fff"/>
<rect x="462.01" y="401.2" width="1" height="4" fill="#fff"/>
<rect x="466.28" y="407.2" width="4.4" height="5.6" fill="#fff"/>
<rect x="467.98" y="401.2" width="1.8" height="4" fill="#fff"/>
<rect x="472.25" y="407.2" width="4.4" height="5.6" fill="#fff"/>
<rect x="473.95" y="401.2" width="1" height="4" fill="#fff"/>
<rect x="478.22" y="407.2" width="4.4" height="5.6" fill="#fff"/>
<rect x="479.92" y="401.2" width="1" height="4" fill="#fff"/>
<rect x="484.19" y="407.2" width="4.4" height="5.6" fill="#fff"/>
<rect x="485.89" y="401.2" width="1.8" height="4" fill="#fff"/>
<rect x="490.16" y="407.2" width="4.4" height="5.6" fill="#fff"/>
<rect x="491.86" y="401.2" width="1" height="4" fill="#fff"/>
<rect x="496.13" y="407.2" width="4.4" height="5.6" fill="#fff"/>
<rect x="497.83" y="401.2" width="1" height="4" fill="#fff"/>
<rect x="502.1" y="407.2" width="4.4" height="5.6" fill="#fff"/>
<rect x="503.8" y="401.2" width="1.8" height="4" fill="#fff"/>
<rect x="508.07" y="407.2" width="4.4" height="5.6" fill="#fff"/>
<rect x="509.77" y="401.2" width="1" height="4" fill="#fff"/>
<rect x="514.04" y="407.2" width="4.4" height="5.6" fill="#fff"/>
<rect x="515.74" y="401.2" width="1" height="4" fill="#fff"/>
<rect x="520.01" y="407.2" width="4.4" height="5.6" fill="#fff"/>
<rect x="521.71" y="401.2" width="1.8" height="4" fill="#fff"/>
<rect x="525.98" y="407.2" width="4.4" height="5.6" fill="#fff"/>
<rect x="527.68" y="401.2" width="1" height="4" fill="#fff"/>
<rect x="531.95" y="407.2" width="4.4" height="5.6" fill="#fff"/>
<rect x="533.65" y="401.2" width="1" height="4" fill="#fff"/>
<rect x="537.92" y="407.2" width="4.4" height="5.6" fill="#fff"/>
<rect x="539.62" y="401.2" width="1.8" height="4" fill="#fff"/>
<rect x="543.89" y="407.2" width="4.4" height="5.6" fill="#fff"/>
<rect x="545.59" y="401.2" width="1" height="4" fill="#fff"/>
<rect x="549.86" y="407.2" width="4.4" height="5.6" fill="#fff"/>
<rect x="551.56" y="401.2" width="1" height="4" fill="#fff"/>
<rect x="381" y="407.2" width="0.8" height="5.3" fill="#fff"/>
<polygon points="569.8,403 566.8,403 566.8,406 562.8,406 562.8,403 560,403 560,413.5 569.8,413.5" fill="#000"/>
<polygon points="568.8,404 567.8,404 567.8,407 561.8,407 561.8,404 561,404 561,412.5 568.8,412.5" fill="#fff"/>
<rect x="562" y="398" width="1" height="5" fill="#000"/>
<rect x="569.4" y="398" width="3.4" height="17" fill="#000"/>
<rect x="572.8" y="405" width="9.2" height="1" fill="#000"/>
<rect x="572.8" y="412.2" width="9.2" height="1" fill="#000"/>
<rect x="355" y="418" width="227" height="19" fill="#000"/>
<rect x="356" y="419" width="225" height="17" fill="#fff"/>
<rect x="355" y="425" width="7.5" height="1" fill="#000"/>
<rect x="355" y="432.4" width="7.5" height="1" fill="#000"/>
<rect x="362" y="418" width="1" height="15.4" fill="#000"/>
<rect x="362.2" y="433.4" width="1.1" height="1.4" fill="#000"/>
<rect x="364" y="418" width="2" height="17" fill="#000"/>
<polygon points="366,423 369,423 369,425.4 373,425.4 373,423 375.8,423 375.8,432.7 366,432.7" fill="#000"/>
<polygon points="367,424 368,424 368,426.4 374,426.4 374,424 374.8,424 374.8,431.7 367,431.7" fill="#fff"/>
<rect x="373" y="418" width="1" height="5" fill="#000"/>
<rect x="381" y="420.2" width="174" height="6.8" fill="#000"/>
<rect x="379.8" y="426" width="176.2" height="7.8" rx="1.5" fill="#000"/>
<rect x="382.7" y="427.2" width="4.4" height="5.6" fill="#fff"/>
<rect x="384.4" y="421.2" width="1" height="4" fill="#fff"/>
<rect x="388.67" y="427.2" width="4.4" height="5.6" fill="#fff"/>
<rect x="390.37" y="421.2" width="1" height="4" fill="#fff"/>
<rect x="394.64" y="427.2" width="4.4" height="5.6" fill="#fff"/>
<rect x="396.34" y="421.2" width="1.8" height="4" fill="#fff"/>
<rect x="400.61" y="427.2" width="4.4" height="5.6" fill="#fff"/>
<rect x="402.31" y="421.2" width="1" height="4" fill="#fff"/>
<rect x="406.58" y="427.2" width="4.4" height="5.6" fill="#fff"/>
<rect x="408.28" y="421.2" width="1" height="4" fill="#fff"/>
<rect x="412.55" y="427.2" width="4.4" height="5.6" fill="#fff"/>
<rect x="414.25" y="421.2" width="1.8" height="4" fill="#fff"/>
<rect x="418.52" y="427.2" width="4.4" height="5.6" fill="#fff"/>
<rect x="420.22" y="421.2" width="1" height="4" fill="#fff"/>
<rect x="424.49" y="427.2" width="4.4" height="5.6" fill="#fff"/>
<rect x="426.19" y="421.2" width="1" height="4" fill="#fff"/>
<rect x="430.46" y="427.2" width="4.4" height="5.6" fill="#fff"/>
<rect x="432.16" y="421.2" width="1.8" height="4" fill="#fff"/>
<rect x="436.43" y="427.2" width="4.4" height="5.6" fill="#fff"/>
<rect x="438.13" y="421.2" width="1" height="4" fill="#fff"/>
<rect x="442.4" y="427.2" width="4.4" height="5.6" fill="#fff"/>
<rect x="444.1" y="421.2" width="1" height="4" fill="#fff"/>
<rect x="448.37" y="427.2" width="4.4" height="5.6" fill="#fff"/>
<rect x="450.07" y="421.2" width="1.8" height="4" fill="#fff"/>
<rect x="454.34" y="427.2" width="4.4" height="5.6" fill="#fff"/>
<rect x="456.04" y="421.2" width="1" height="4" fill="#fff"/>
<rect x="460.31" y="427.2" width="4.4" height="5.6" fill="#fff"/>
<rect x="462.01" y="421.2" width="1" height="4" fill="#fff"/>
<rect x="466.28" y="427.2" width="4.4" height="5.6" fill="#fff"/>
<rect x="467.98" y="421.2" width="1.8" height="4" fill="#fff"/>
<rect x="472.25" y="427.2" width="4.4" height="5.6" fill="#fff"/>
<rect x="473.95" y="421.2" width="1" height="4" fill="#fff"/>
<rect x="478.22" y="427.2" width="4.4" height="5.6" fill="#fff"/>
<rect x="479.92" y="421.2" width="1" height="4" fill="#fff"/>
<rect x="484.19" y="427.2" width="4.4" height="5.6" fill="#fff"/>
<rect x="485.89" y="421.2" width="1.8" height="4" fill="#fff"/>
<rect x="490.16" y="427.2" width="4.4" height="5.6" fill="#fff"/>
<rect x="491.86" y="421.2" width="1" height="4" fill="#fff"/>
<rect x="496.13" y="427.2" width="4.4" height="5.6" fill="#fff"/>
<rect x="497.83" y="421.2" width="1" height="4" fill="#fff"/>
<rect x="502.1" y="427.2" width="4.4" height="5.6" fill="#fff"/>
<rect x="503.8" y="421.2" width="1.8" height="4" fill="#fff"/>
<rect x="508.07" y="427.2" width="4.4" height="5.6" fill="#fff"/>
<rect x="509.77" y="421.2" width="1" height="4" fill="#fff"/>
<rect x="514.04" y="427.2" width="4.4" height="5.6" fill="#fff"/>
<rect x="515.74" y="421.2" width="1" height="4" fill="#fff"/>
<rect x="520.01" y="427.2" width="4.4" height="5.6" fill="#fff"/>
<rect x="521.71" y="421.2" width="1.8" height="4" fill="#fff"/>
<rect x="525.98" y="427.2" width="4.4" height="5.6" fill="#fff"/>
<rect x="527.68" y="421.2" width="1" height="4" fill="#fff"/>
<rect x="531.95" y="427.2" width="4.4" height="5.6" fill="#fff"/>
<rect x="533.65" y="421.2" width="1" height="4" fill="#fff"/>
<rect x="537.92" y="427.2" width="4.4" height="5.6" fill="#fff"/>
<rect x="539.62" y="421.2" width="1.8" height="4" fill="#fff"/>
<rect x="543.89" y="427.2" width="4.4" height="5.6" fill="#fff"/>
<rect x="545.59" y="421.2" width="1" height="4" fill="#fff"/>
<rect x="549.86" y="427.2" width="4.4" height="5.6" fill="#fff"/>
<rect x="551.56" y="421.2" width="1" height="4" fill="#fff"/>
<rect x="381" y="427.2" width="0.8" height="5.3" fill="#fff"/>
<polygon points="569.8,423 566.8,423 566.8,426 562.8,426 562.8,423 560,423 560,433.5 569.8,433.5" fill="#000"/>
<polygon points="568.8,424 567.8,424 567.8,427 561.8,427 561.8,424 561,424 561,432.5 568.8,432.5" fill="#fff"/>
<rect x="562" y="418" width="1" height="5" fill="#000"/>
<rect x="569.4" y="418" width="3.4" height="17" fill="#000"/>
<rect x="572.8" y="425" width="9.2" height="1" fill="#000"/>
<rect x="572.8" y="432.2" width="9.2" height="1" fill="#000"/>
<rect x="355" y="439" width="227" height="19" fill="#000"/>
<rect x="356" y="440" width="225" height="17" fill="#fff"/>
<rect x="355" y="446" width="7.5" height="1" fill="#000"/>
<rect x="355" y="453.4" width="7.5" height="1" fill="#000"/>
<rect x="362" y="439" width="1" height="15.4" fill="#000"/>
<rect x="362.2" y="454.4" width="1.1" height="1.4" fill="#000"/>
<rect x="364" y="439" width="2" height="17" fill="#000"/>
<polygon points="366,444 369,444 369,446.4 373,446.4 373,444 375.8,444 375.8,453.7 366,453.7" fill="#000"/>
<polygon points="367,445 368,445 368,447.4 374,447.4 374,445 374.8,445 374.8,452.7 367,452.7" fill="#fff"/>
<rect x="373" y="439" width="1" height="5" fill="#000"/>
<rect x="381" y="441.2" width="174" height="6.8" fill="#000"/>
<rect x="379.8" y="447" width="176.2" height="7.8" rx="1.5" fill="#000"/>
<rect x="382.7" y="448.2" width="4.4" height="5.6" fill="#fff"/>
<rect x="384.4" y="442.2" width="1" height="4" fill="#fff"/>
<rect x="388.67" y="448.2" width="4.4" height="5.6" fill="#fff"/>
<rect x="390.37" y="442.2" width="1" height="4" fill="#fff"/>
<rect x="394.64" y="448.2" width="4.4" height="5.6" fill="#fff"/>
<rect x="396.34" y="442.2" width="1.8" height="4" fill="#fff"/>
<rect x="400.61" y="448.2" width="4.4" height="5.6" fill="#fff"/>
<rect x="402.31" y="442.2" width="1" height="4" fill="#fff"/>
<rect x="406.58" y="448.2" width="4.4" height="5.6" fill="#fff"/>
<rect x="408.28" y="442.2" width="1" height="4" fill="#fff"/>
<rect x="412.55" y="448.2" width="4.4" height="5.6" fill="#fff"/>
<rect x="414.25" y="442.2" width="1.8" height="4" fill="#fff"/>
<rect x="418.52" y="448.2" width="4.4" height="5.6" fill="#fff"/>
<rect x="420.22" y="442.2" width="1" height="4" fill="#fff"/>
<rect x="424.49" y="448.2" width="4.4" height="5.6" fill="#fff"/>
<rect x="426.19" y="442.2" width="1" height="4" fill="#fff"/>
<rect x="430.46" y="448.2" width="4.4" height="5.6" fill="#fff"/>
<rect x="432.16" y="442.2" width="1.8" height="4" fill="#fff"/>
<rect x="436.43" y="448.2" width="4.4" height="5.6" fill="#fff"/>
<rect x="438.13" y="442.2" width="1" height="4" fill="#fff"/>
<rect x="442.4" y="448.2" width="4.4" height="5.6" fill="#fff"/>
<rect x="444.1" y="442.2" width="1" height="4" fill="#fff"/>
<rect x="448.37" y="448.2" width="4.4" height="5.6" fill="#fff"/>
<rect x="450.07" y="442.2" width="1.8" height="4" fill="#fff"/>
<rect x="454.34" y="448.2" width="4.4" height="5.6" fill="#fff"/>
<rect x="456.04" y="442.2" width="1" height="4" fill="#fff"/>
<rect x="460.31" y="448.2" width="4.4" height="5.6" fill="#fff"/>
<rect x="462.01" y="442.2" width="1" height="4" fill="#fff"/>
<rect x="466.28" y="448.2" width="4.4" height="5.6" fill="#fff"/>
<rect x="467.98" y="442.2" width="1.8" height="4" fill="#fff"/>
<rect x="472.25" y="448.2" width="4.4" height="5.6" fill="#fff"/>
<rect x="473.95" y="442.2" width="1" height="4" fill="#fff"/>
<rect x="478.22" y="448.2" width="4.4" height="5.6" fill="#fff"/>
<rect x="479.92" y="442.2" width="1" height="4" fill="#fff"/>
<rect x="484.19" y="448.2" width="4.4" height="5.6" fill="#fff"/>
<rect x="485.89" y="442.2" width="1.8" height="4" fill="#fff"/>
<rect x="490.16" y="448.2" width="4.4" height="5.6" fill="#fff"/>
<rect x="491.86" y="442.2" width="1" height="4" fill="#fff"/>
<rect x="496.13" y="448.2" width="4.4" height="5.6" fill="#fff"/>
<rect x="497.83" y="442.2" width="1" height="4" fill="#fff"/>
<rect x="502.1" y="448.2" width="4.4" height="5.6" fill="#fff"/>
<rect x="503.8" y="442.2" width="1.8" height="4" fill="#fff"/>
<rect x="508.07" y="448.2" width="4.4" height="5.6" fill="#fff"/>
<rect x="509.77" y="442.2" width="1" height="4" fill="#fff"/>
<rect x="514.04" y="448.2" width="4.4" height="5.6" fill="#fff"/>
<rect x="515.74" y="442.2" width="1" height="4" fill="#fff"/>
<rect x="520.01" y="448.2" width="4.4" height="5.6" fill="#fff"/>
<rect x="521.71" y="442.2" width="1.8" height="4" fill="#fff"/>
<rect x="525.98" y="448.2" width="4.4" height="5.6" fill="#fff"/>
<rect x="527.68" y="442.2" width="1" height="4" fill="#fff"/>
<rect x="531.95" y="448.2" width="4.4" height="5.6" fill="#fff"/>
<rect x="533.65" y="442.2" width="1" height="4" fill="#fff"/>
<rect x="537.92" y="448.2" width="4.4" height="5.6" fill="#fff"/>
<rect x="539.62" y="442.2" width="1.8" height="4" fill="#fff"/>
<rect x="543.89" y="448.2" width="4.4" height="5.6" fill="#fff"/>
<rect x="545.59" y="442.2" width="1" height="4" fill="#fff"/>
<rect x="549.86" y="448.2" width="4.4" height="5.6" fill="#fff"/>
<rect x="551.56" y="442.2" width="1" height="4" fill="#fff"/>
<rect x="381" y="448.2" width="0.8" height="5.3" fill="#fff"/>
<polygon points="569.8,444 566.8,444 566.8,447 562.8,447 562.8,444 560,444 560,454.5 569.8,454.5" fill="#000"/>
<polygon points="568.8,445 567.8,445 567.8,448 561.8,448 561.8,445 561,445 561,453.5 568.8,453.5" fill="#fff"/>
<rect x="562" y="439" width="1" height="5" fill="#000"/>
<rect x="569.4" y="439" width="3.4" height="17" fill="#000"/>
<rect x="572.8" y="446" width="9.2" height="1" fill="#000"/>
<rect x="572.8" y="453.2" width="9.2" height="1" fill="#000"/>
<rect x="355" y="459" width="227" height="19" fill="#000"/>
<rect x="356" y="460" width="225" height="17" fill="#fff"/>
<rect x="355" y="466" width="7.5" height="1" fill="#000"/>
<rect x="355" y="473.4" width="7.5" height="1" fill="#000"/>
<rect x="362" y="459" width="1" height="15.4" fill="#000"/>
<rect x="362.2" y="474.4" width="1.1" height="1.4" fill="#000"/>
<rect x="364" y="459" width="2" height="17" fill="#000"/>
<polygon points="366,464 369,464 369,466.4 373,466.4 373,464 375.8,464 375.8,473.7 366,473.7" fill="#000"/>
<polygon points="367,465 368,465 368,467.4 374,467.4 374,465 374.8,465 374.8,472.7 367,472.7" fill="#fff"/>
<rect x="373" y="459" width="1" height="5" fill="#000"/>
<rect x="381" y="461.2" width="174" height="6.8" fill="#000"/>
<rect x="379.8" y="467" width="176.2" height="7.8" rx="1.5" fill="#000"/>
<rect x="382.7" y="468.2" width="4.4" height="5.6" fill="#fff"/>
<rect x="384.4" y="462.2" width="1" height="4" fill="#fff"/>
<rect x="388.67" y="468.2" width="4.4" height="5.6" fill="#fff"/>
<rect x="390.37" y="462.2" width="1" height="4" fill="#fff"/>
<rect x="394.64" y="468.2" width="4.4" height="5.6" fill="#fff"/>
<rect x="396.34" y="462.2" width="1.8" height="4" fill="#fff"/>
<rect x="400.61" y="468.2" width="4.4" height="5.6" fill="#fff"/>
<rect x="402.31" y="462.2" width="1" height="4" fill="#fff"/>
<rect x="406.58" y="468.2" width="4.4" height="5.6" fill="#fff"/>
<rect x="408.28" y="462.2" width="1" height="4" fill="#fff"/>
<rect x="412.55" y="468.2" width="4.4" height="5.6" fill="#fff"/>
<rect x="414.25" y="462.2" width="1.8" height="4" fill="#fff"/>
<rect x="418.52" y="468.2" width="4.4" height="5.6" fill="#fff"/>
<rect x="420.22" y="462.2" width="1" height="4" fill="#fff"/>
<rect x="424.49" y="468.2" width="4.4" height="5.6" fill="#fff"/>
<rect x="426.19" y="462.2" width="1" height="4" fill="#fff"/>
<rect x="430.46" y="468.2" width="4.4" height="5.6" fill="#fff"/>
<rect x="432.16" y="462.2" width="1.8" height="4" fill="#fff"/>
<rect x="436.43" y="468.2" width="4.4" height="5.6" fill="#fff"/>
<rect x="438.13" y="462.2" width="1" height="4" fill="#fff"/>
<rect x="442.4" y="468.2" width="4.4" height="5.6" fill="#fff"/>
<rect x="444.1" y="462.2" width="1" height="4" fill="#fff"/>
<rect x="448.37" y="468.2" width="4.4" height="5.6" fill="#fff"/>
<rect x="450.07" y="462.2" width="1.8" height="4" fill="#fff"/>
<rect x="454.34" y="468.2" width="4.4" height="5.6" fill="#fff"/>
<rect x="456.04" y="462.2" width="1" height="4" fill="#fff"/>
<rect x="460.31" y="468.2" width="4.4" height="5.6" fill="#fff"/>
<rect x="462.01" y="462.2" width="1" height="4" fill="#fff"/>
<rect x="466.28" y="468.2" width="4.4" height="5.6" fill="#fff"/>
<rect x="467.98" y="462.2" width="1.8" height="4" fill="#fff"/>
<rect x="472.25" y="468.2" width="4.4" height="5.6" fill="#fff"/>
<rect x="473.95" y="462.2" width="1" height="4" fill="#fff"/>
<rect x="478.22" y="468.2" width="4.4" height="5.6" fill="#fff"/>
<rect x="479.92" y="462.2" width="1" height="4" fill="#fff"/>
<rect x="484.19" y="468.2" width="4.4" height="5.6" fill="#fff"/>
<rect x="485.89" y="462.2" width="1.8" height="4" fill="#fff"/>
<rect x="490.16" y="468.2" width="4.4" height="5.6" fill="#fff"/>
<rect x="491.86" y="462.2" width="1" height="4" fill="#fff"/>
<rect x="496.13" y="468.2" width="4.4" height="5.6" fill="#fff"/>
<rect x="497.83" y="462.2" width="1" height="4" fill="#fff"/>
<rect x="502.1" y="468.2" width="4.4" height="5.6" fill="#fff"/>
<rect x="503.8" y="462.2" width="1.8" height="4" fill="#fff"/>
<rect x="508.07" y="468.2" width="4.4" height="5.6" fill="#fff"/>
<rect x="509.77" y="462.2" width="1" height="4" fill="#fff"/>
<rect x="514.04" y="468.2" width="4.4" height="5.6" fill="#fff"/>
<rect x="515.74" y="462.2" width="1" height="4" fill="#fff"/>
<rect x="520.01" y="468.2" width="4.4" height="5.6" fill="#fff"/>
<rect x="521.71" y="462.2" width="1.8" height="4" fill="#fff"/>
<rect x="525.98" y="468.2" width="4.4" height="5.6" fill="#fff"/>
<rect x="527.68" y="462.2" width="1" height="4" fill="#fff"/>
<rect x="531.95" y="468.2" width="4.4" height="5.6" fill="#fff"/>
<rect x="533.65" y="462.2" width="1" height="4" fill="#fff"/>
<rect x="537.92" y="468.2" width="4.4" height="5.6" fill="#fff"/>
<rect x="539.62" y="462.2" width="1.8" height="4" fill="#fff"/>
<rect x="543.89" y="468.2" width="4.4" height="5.6" fill="#fff"/>
<rect x="545.59" y="462.2" width="1" height="4" fill="#fff"/>
<rect x="549.86" y="468.2" width="4.4" height="5.6" fill="#fff"/>
<rect x="551.56" y="462.2" width="1" height="4" fill="#fff"/>
<rect x="381" y="468.2" width="0.8" height="5.3" fill="#fff"/>
<polygon points="569.8,464 566.8,464 566.8,467 562.8,467 562.8,464 560,464 560,474.5 569.8,474.5" fill="#000"/>
<polygon points="568.8,465 567.8,465 567.8,468 561.8,468 561.8,465 561,465 561,473.5 568.8,473.5" fill="#fff"/>
<rect x="562" y="459" width="1" height="5" fill="#000"/>
<rect x="569.4" y="459" width="3.4" height="17" fill="#000"/>
<rect x="572.8" y="466" width="9.2" height="1" fill="#000"/>
<rect x="572.8" y="473.2" width="9.2" height="1" fill="#000"/>
<rect x="355" y="479" width="227" height="19" fill="#000"/>
<rect x="356" y="480" width="225" height="17" fill="#fff"/>
<rect x="355" y="486" width="7.5" height="1" fill="#000"/>
<rect x="355" y="493.4" width="7.5" height="1" fill="#000"/>
<rect x="362" y="479" width="1" height="15.4" fill="#000"/>
<rect x="362.2" y="494.4" width="1.1" height="1.4" fill="#000"/>
<rect x="364" y="479" width="2" height="17" fill="#000"/>
<polygon points="366,484 369,484 369,486.4 373,486.4 373,484 375.8,484 375.8,493.7 366,493.7" fill="#000"/>
<polygon points="367,485 368,485 368,487.4 374,487.4 374,485 374.8,485 374.8,492.7 367,492.7" fill="#fff"/>
<rect x="373" y="479" width="1" height="5" fill="#000"/>
<rect x="381" y="481.2" width="174" height="6.8" fill="#000"/>
<rect x="379.8" y="487" width="176.2" height="7.8" rx="1.5" fill="#000"/>
<rect x="382.7" y="488.2" width="4.4" height="5.6" fill="#fff"/>
<rect x="384.4" y="482.2" width="1" height="4" fill="#fff"/>
<rect x="388.67" y="488.2" width="4.4" height="5.6" fill="#fff"/>
<rect x="390.37" y="482.2" width="1" height="4" fill="#fff"/>
<rect x="394.64" y="488.2" width="4.4" height="5.6" fill="#fff"/>
<rect x="396.34" y="482.2" width="1.8" height="4" fill="#fff"/>
<rect x="400.61" y="488.2" width="4.4" height="5.6" fill="#fff"/>
<rect x="402.31" y="482.2" width="1" height="4" fill="#fff"/>
<rect x="406.58" y="488.2" width="4.4" height="5.6" fill="#fff"/>
<rect x="408.28" y="482.2" width="1" height="4" fill="#fff"/>
<rect x="412.55" y="488.2" width="4.4" height="5.6" fill="#fff"/>
<rect x="414.25" y="482.2" width="1.8" height="4" fill="#fff"/>
<rect x="418.52" y="488.2" width="4.4" height="5.6" fill="#fff"/>
<rect x="420.22" y="482.2" width="1" height="4" fill="#fff"/>
<rect x="424.49" y="488.2" width="4.4" height="5.6" fill="#fff"/>
<rect x="426.19" y="482.2" width="1" height="4" fill="#fff"/>
<rect x="430.46" y="488.2" width="4.4" height="5.6" fill="#fff"/>
<rect x="432.16" y="482.2" width="1.8" height="4" fill="#fff"/>
<rect x="436.43" y="488.2" width="4.4" height="5.6" fill="#fff"/>
<rect x="438.13" y="482.2" width="1" height="4" fill="#fff"/>
<rect x="442.4" y="488.2" width="4.4" height="5.6" fill="#fff"/>
<rect x="444.1" y="482.2" width="1" height="4" fill="#fff"/>
<rect x="448.37" y="488.2" width="4.4" height="5.6" fill="#fff"/>
<rect x="450.07" y="482.2" width="1.8" height="4" fill="#fff"/>
<rect x="454.34" y="488.2" width="4.4" height="5.6" fill="#fff"/>
<rect x="456.04" y="482.2" width="1" height="4" fill="#fff"/>
<rect x="460.31" y="488.2" width="4.4" height="5.6" fill="#fff"/>
<rect x="462.01" y="482.2" width="1" height="4" fill="#fff"/>
<rect x="466.28" y="488.2" width="4.4" height="5.6" fill="#fff"/>
<rect x="467.98" y="482.2" width="1.8" height="4" fill="#fff"/>
<rect x="472.25" y="488.2" width="4.4" height="5.6" fill="#fff"/>
<rect x="473.95" y="482.2" width="1" height="4" fill="#fff"/>
<rect x="478.22" y="488.2" width="4.4" height="5.6" fill="#fff"/>
<rect x="479.92" y="482.2" width="1" height="4" fill="#fff"/>
<rect x="484.19" y="488.2" width="4.4" height="5.6" fill="#fff"/>
<rect x="485.89" y="482.2" width="1.8" height="4" fill="#fff"/>
<rect x="490.16" y="488.2" width="4.4" height="5.6" fill="#fff"/>
<rect x="491.86" y="482.2" width="1" height="4" fill="#fff"/>
<rect x="496.13" y="488.2" width="4.4" height="5.6" fill="#fff"/>
<rect x="497.83" y="482.2" width="1" height="4" fill="#fff"/>
<rect x="502.1" y="488.2" width="4.4" height="5.6" fill="#fff"/>
<rect x="503.8" y="482.2" width="1.8" height="4" fill="#fff"/>
<rect x="508.07" y="488.2" width="4.4" height="5.6" fill="#fff"/>
<rect x="509.77" y="482.2" width="1" height="4" fill="#fff"/>
<rect x="514.04" y="488.2" width="4.4" height="5.6" fill="#fff"/>
<rect x="515.74" y="482.2" width="1" height="4" fill="#fff"/>
<rect x="520.01" y="488.2" width="4.4" height="5.6" fill="#fff"/>
<rect x="521.71" y="482.2" width="1.8" height="4" fill="#fff"/>
<rect x="525.98" y="488.2" width="4.4" height="5.6" fill="#fff"/>
<rect x="527.68" y="482.2" width="1" height="4" fill="#fff"/>
<rect x="531.95" y="488.2" width="4.4" height="5.6" fill="#fff"/>
<rect x="533.65" y="482.2" width="1" height="4" fill="#fff"/>
<rect x="537.92" y="488.2" width="4.4" height="5.6" fill="#fff"/>
<rect x="539.62" y="482.2" width="1.8" height="4" fill="#fff"/>
<rect x="543.89" y="488.2" width="4.4" height="5.6" fill="#fff"/>
<rect x="545.59" y="482.2" width="1" height="4" fill="#fff"/>
<rect x="549.86" y="488.2" width="4.4" height="5.6" fill="#fff"/>
<rect x="551.56" y="482.2" width="1" height="4" fill="#fff"/>
<rect x="381" y="488.2" width="0.8" height="5.3" fill="#fff"/>
<polygon points="569.8,484 566.8,484 566.8,487 562.8,487 562.8,484 560,484 560,494.5 569.8,494.5" fill="#000"/>
<polygon points="568.8,485 567.8,485 567.8,488 561.8,488 561.8,485 561,485 561,493.5 568.8,493.5" fill="#fff"/>
<rect x="562" y="479" width="1" height="5" fill="#000"/>
<rect x="569.4" y="479" width="3.4" height="17" fill="#000"/>
<rect x="572.8" y="486" width="9.2" height="1" fill="#000"/>
<rect x="572.8" y="493.2" width="9.2" height="1" fill="#000"/>
<rect x="355" y="499" width="227" height="19" fill="#000"/>
<rect x="356" y="500" width="225" height="17" fill="#fff"/>
<rect x="355" y="506" width="7.5" height="1" fill="#000"/>
<rect x="355" y="513.4" width="7.5" height="1" fill="#000"/>
<rect x="362" y="499" width="1" height="15.4" fill="#000"/>
<rect x="362.2" y="514.4" width="1.1" height="1.4" fill="#000"/>
<rect x="364" y="499" width="2" height="17" fill="#000"/>
<polygon points="366,504 369,504 369,506.4 373,506.4 373,504 375.8,504 375.8,513.7 366,513.7" fill="#000"/>
<polygon points="367,505 368,505 368,507.4 374,507.4 374,505 374.8,505 374.8,512.7 367,512.7" fill="#fff"/>
<rect x="373" y="499" width="1" height="5" fill="#000"/>
<rect x="381" y="501.2" width="174" height="6.8" fill="#000"/>
<rect x="379.8" y="507" width="176.2" height="7.8" rx="1.5" fill="#000"/>
<rect x="382.7" y="508.2" width="4.4" height="5.6" fill="#fff"/>
<rect x="384.4" y="502.2" width="1" height="4" fill="#fff"/>
<rect x="388.67" y="508.2" width="4.4" height="5.6" fill="#fff"/>
<rect x="390.37" y="502.2" width="1" height="4" fill="#fff"/>
<rect x="394.64" y="508.2" width="4.4" height="5.6" fill="#fff"/>
<rect x="396.34" y="502.2" width="1.8" height="4" fill="#fff"/>
<rect x="400.61" y="508.2" width="4.4" height="5.6" fill="#fff"/>
<rect x="402.31" y="502.2" width="1" height="4" fill="#fff"/>
<rect x="406.58" y="508.2" width="4.4" height="5.6" fill="#fff"/>
<rect x="408.28" y="502.2" width="1" height="4" fill="#fff"/>
<rect x="412.55" y="508.2" width="4.4" height="5.6" fill="#fff"/>
<rect x="414.25" y="502.2" width="1.8" height="4" fill="#fff"/>
<rect x="418.52" y="508.2" width="4.4" height="5.6" fill="#fff"/>
<rect x="420.22" y="502.2" width="1" height="4" fill="#fff"/>
<rect x="424.49" y="508.2" width="4.4" height="5.6" fill="#fff"/>
<rect x="426.19" y="502.2" width="1" height="4" fill="#fff"/>
<rect x="430.46" y="508.2" width="4.4" height="5.6" fill="#fff"/>
<rect x="432.16" y="502.2" width="1.8" height="4" fill="#fff"/>
<rect x="436.43" y="508.2" width="4.4" height="5.6" fill="#fff"/>
<rect x="438.13" y="502.2" width="1" height="4" fill="#fff"/>
<rect x="442.4" y="508.2" width="4.4" height="5.6" fill="#fff"/>
<rect x="444.1" y="502.2" width="1" height="4" fill="#fff"/>
<rect x="448.37" y="508.2" width="4.4" height="5.6" fill="#fff"/>
<rect x="450.07" y="502.2" width="1.8" height="4" fill="#fff"/>
<rect x="454.34" y="508.2" width="4.4" height="5.6" fill="#fff"/>
<rect x="456.04" y="502.2" width="1" height="4" fill="#fff"/>
<rect x="460.31" y="508.2" width="4.4" height="5.6" fill="#fff"/>
<rect x="462.01" y="502.2" width="1" height="4" fill="#fff"/>
<rect x="466.28" y="508.2" width="4.4" height="5.6" fill="#fff"/>
<rect x="467.98" y="502.2" width="1.8" height="4" fill="#fff"/>
<rect x="472.25" y="508.2" width="4.4" height="5.6" fill="#fff"/>
<rect x="473.95" y="502.2" width="1" height="4" fill="#fff"/>
<rect x="478.22" y="508.2" width="4.4" height="5.6" fill="#fff"/>
<rect x="479.92" y="502.2" width="1" height="4" fill="#fff"/>
<rect x="484.19" y="508.2" width="4.4" height="5.6" fill="#fff"/>
<rect x="485.89" y="502.2" width="1.8" height="4" fill="#fff"/>
<rect x="490.16" y="508.2" width="4.4" height="5.6" fill="#fff"/>
<rect x="491.86" y="502.2" width="1" height="4" fill="#fff"/>
<rect x="496.13" y="508.2" width="4.4" height="5.6" fill="#fff"/>
<rect x="497.83" y="502.2" width="1" height="4" fill="#fff"/>
<rect x="502.1" y="508.2" width="4.4" height="5.6" fill="#fff"/>
<rect x="503.8" y="502.2" width="1.8" height="4" fill="#fff"/>
<rect x="508.07" y="508.2" width="4.4" height="5.6" fill="#fff"/>
<rect x="509.77" y="502.2" width="1" height="4" fill="#fff"/>
<rect x="514.04" y="508.2" width="4.4" height="5.6" fill="#fff"/>
<rect x="515.74" y="502.2" width="1" height="4" fill="#fff"/>
<rect x="520.01" y="508.2" width="4.4" height="5.6" fill="#fff"/>
<rect x="521.71" y="502.2" width="1.8" height="4" fill="#fff"/>
<rect x="525.98" y="508.2" width="4.4" height="5.6" fill="#fff"/>
<rect x="527.68" y="502.2" width="1" height="4" fill="#fff"/>
<rect x="531.95" y="508.2" width="4.4" height="5.6" fill="#fff"/>
<rect x="533.65" y="502.2" width="1" height="4" fill="#fff"/>
<rect x="537.92" y="508.2" width="4.4" height="5.6" fill="#fff"/>
<rect x="539.62" y="502.2" width="1.8" height="4" fill="#fff"/>
<rect x="543.89" y="508.2" width="4.4" height="5.6" fill="#fff"/>
<rect x="545.59" y="502.2" width="1" height="4" fill="#fff"/>
<rect x="549.86" y="508.2" width="4.4" height="5.6" fill="#fff"/>
<rect x="551.56" y="502.2" width="1" height="4" fill="#fff"/>
<rect x="381" y="508.2" width="0.8" height="5.3" fill="#fff"/>
<polygon points="569.8,504 566.8,504 566.8,507 562.8,507 562.8,504 560,504 560,514.5 569.8,514.5" fill="#000"/>
<polygon points="568.8,505 567.8,505 567.8,508 561.8,508 561.8,505 561,505 561,513.5 568.8,513.5" fill="#fff"/>
<rect x="562" y="499" width="1" height="5" fill="#000"/>
<rect x="569.4" y="499" width="3.4" height="17" fill="#000"/>
<rect x="572.8" y="506" width="9.2" height="1" fill="#000"/>
<rect x="572.8" y="513.2" width="9.2" height="1" fill="#000"/>
<rect x="438.5" y="387.5" width="60.2" height="19.1" rx="3" fill="#000" shape-rendering="geometricPrecision"/>
<rect x="441" y="389.7" width="55" height="15.1" rx="2" fill="#fff" shape-rendering="geometricPrecision"/>
<text transform="translate(447.3,401) scale(0.68,1)" text-anchor="middle" font-size="14.2" fill="#000" stroke="#000" stroke-width="0.32">B</text>
<text transform="translate(455.52,401) scale(0.68,1)" text-anchor="middle" font-size="14.2" fill="#000" stroke="#000" stroke-width="0.32">A</text>
<text transform="translate(463.74,401) scale(0.68,1)" text-anchor="middle" font-size="14.2" fill="#000" stroke="#000" stroke-width="0.32">N</text>
<text transform="translate(471.96,401) scale(0.68,1)" text-anchor="middle" font-size="14.2" fill="#000" stroke="#000" stroke-width="0.32">K</text>
<text transform="translate(488.4,401) scale(0.68,1)" text-anchor="middle" font-size="14.2" fill="#000" stroke="#000" stroke-width="0.32">0</text>
<rect x="438" y="467.7" width="60.7" height="19" rx="3" fill="#000" shape-rendering="geometricPrecision"/>
<rect x="441" y="470.8" width="55" height="14" rx="1.5" fill="#fff" shape-rendering="geometricPrecision"/>
<text transform="translate(447.3,481.6) scale(0.68,1)" text-anchor="middle" font-size="14.2" fill="#000" stroke="#000" stroke-width="0.32">B</text>
<text transform="translate(455.52,481.6) scale(0.68,1)" text-anchor="middle" font-size="14.2" fill="#000" stroke="#000" stroke-width="0.32">A</text>
<text transform="translate(463.74,481.6) scale(0.68,1)" text-anchor="middle" font-size="14.2" fill="#000" stroke="#000" stroke-width="0.32">N</text>
<text transform="translate(471.96,481.6) scale(0.68,1)" text-anchor="middle" font-size="14.2" fill="#000" stroke="#000" stroke-width="0.32">K</text>
<text transform="translate(488,481.6) scale(0.68,1)" text-anchor="middle" font-size="14.2" fill="#000" stroke="#000" stroke-width="0.32">1</text>
<rect x="614" y="385" width="25" height="7" fill="#000"/>
<rect x="615" y="386" width="1" height="5" fill="#fff"/>
<rect x="620" y="386" width="1" height="5" fill="#fff"/>
<rect x="626" y="386" width="1" height="5" fill="#fff"/>
<rect x="632" y="386" width="1" height="5" fill="#fff"/>
<rect x="637" y="386" width="1" height="5" fill="#fff"/>
<rect x="634" y="387" width="2" height="3" fill="#fff"/>
<polygon points="631,373 622.8,385.6 626.2,385.6 637,378" fill="#000" shape-rendering="geometricPrecision"/>
<polygon points="632.69,374.41 627.63,382.13 627.83,382.2 635.31,376.59" fill="#fff" shape-rendering="geometricPrecision"/>
<rect x="630.6" y="360.3" width="34.2" height="18.1" rx="3.5" fill="#000" shape-rendering="geometricPrecision"/>
<rect x="632.4" y="362" width="29.8" height="13.7" rx="1.8" fill="#fff" shape-rendering="geometricPrecision"/>
<text transform="translate(637.5,373.3) scale(0.6,1)" text-anchor="middle" font-size="14.2" fill="#000" stroke="#000" stroke-width="0.32">J</text>
<text transform="translate(646.3,373.3) scale(0.6,1)" text-anchor="middle" font-size="14.2" fill="#000" stroke="#000" stroke-width="0.32">P</text>
<text transform="translate(654.7,373.3) scale(0.69,1)" text-anchor="middle" font-size="14.2" fill="#000" stroke="#000" stroke-width="0.32">1</text>
<path d="M664.5,392.5 H683 Q686.5,392.5 687,395.5 Q688.5,398.5 687.5,400 Q684.5,403 685.5,406 Q687.5,409 687,411.5 Q685,414.5 685.5,417 Q686.5,421 687.5,424 Q688.5,427 687.5,429.5 Q686,432.5 683,432.5 H665 Q661.5,432.5 661,429.5 Q660,427 661,424.5 Q662,421 661,418 Q660,414 661,411 Q662,407.5 661,404.5 Q660,401 660.5,398 Q660,393 664.5,392.5 Z" fill="#fff" stroke="#000" stroke-width="1.1" shape-rendering="geometricPrecision"/>
<rect x="609" y="409" width="24" height="112" fill="#000"/>
<rect x="610" y="410" width="22" height="110" fill="#fff"/>
<rect x="616.5" y="409" width="1" height="112" fill="#000"/>
<rect x="623" y="409" width="6" height="2.5" fill="#000"/>
<polygon points="624.5,409 628,409 627,411 626.3,410 625.5,411" fill="#fff"/>
<rect x="612" y="412.2" width="4" height="4.6" fill="#000"/>
<rect x="613" y="411.2" width="2.4" height="6.6" fill="#000"/>
<rect x="614" y="417.2" width="1.2" height="3.3" fill="#000"/>
<rect x="618.8" y="411.2" width="3.2" height="6.6" fill="#000"/>
<rect x="623.2" y="414.2" width="6.6" height="7" fill="#000"/>
<rect x="624.2" y="415.2" width="4.6" height="5" fill="#fff"/>
<rect x="612" y="421.5" width="4" height="4.6" fill="#000"/>
<rect x="613" y="420.5" width="2.4" height="6.6" fill="#000"/>
<rect x="614" y="426.5" width="1.2" height="3.3" fill="#000"/>
<rect x="618.8" y="420.5" width="3.2" height="6.6" fill="#000"/>
<rect x="623.2" y="423.5" width="6.6" height="7" fill="#000"/>
<rect x="624.2" y="424.5" width="4.6" height="5" fill="#fff"/>
<rect x="612" y="430.8" width="4" height="4.6" fill="#000"/>
<rect x="613" y="429.8" width="2.4" height="6.6" fill="#000"/>
<rect x="614" y="435.8" width="1.2" height="3.3" fill="#000"/>
<rect x="618.8" y="429.8" width="3.2" height="6.6" fill="#000"/>
<rect x="623.2" y="432.8" width="6.6" height="7" fill="#000"/>
<rect x="624.2" y="433.8" width="4.6" height="5" fill="#fff"/>
<rect x="612" y="440.1" width="4" height="4.6" fill="#000"/>
<rect x="613" y="439.1" width="2.4" height="6.6" fill="#000"/>
<rect x="614" y="445.1" width="1.2" height="3.3" fill="#000"/>
<rect x="618.8" y="439.1" width="3.2" height="6.6" fill="#000"/>
<rect x="623.2" y="442.1" width="6.6" height="7" fill="#000"/>
<rect x="624.2" y="443.1" width="4.6" height="5" fill="#fff"/>
<rect x="612" y="449.4" width="4" height="4.6" fill="#000"/>
<rect x="613" y="448.4" width="2.4" height="6.6" fill="#000"/>
<rect x="614" y="454.4" width="1.2" height="3.3" fill="#000"/>
<rect x="618.8" y="448.4" width="3.2" height="6.6" fill="#000"/>
<rect x="623.2" y="451.4" width="6.6" height="7" fill="#000"/>
<rect x="624.2" y="452.4" width="4.6" height="5" fill="#fff"/>
<rect x="612" y="458.7" width="4" height="4.6" fill="#000"/>
<rect x="613" y="457.7" width="2.4" height="6.6" fill="#000"/>
<rect x="614" y="463.7" width="1.2" height="3.3" fill="#000"/>
<rect x="618.8" y="457.7" width="3.2" height="6.6" fill="#000"/>
<rect x="623.2" y="460.7" width="6.6" height="7" fill="#000"/>
<rect x="624.2" y="461.7" width="4.6" height="5" fill="#fff"/>
<rect x="612" y="468" width="4" height="4.6" fill="#000"/>
<rect x="613" y="467" width="2.4" height="6.6" fill="#000"/>
<rect x="614" y="473" width="1.2" height="3.3" fill="#000"/>
<rect x="618.8" y="467" width="3.2" height="6.6" fill="#000"/>
<rect x="623.2" y="470" width="6.6" height="7" fill="#000"/>
<rect x="624.2" y="471" width="4.6" height="5" fill="#fff"/>
<rect x="612" y="477.3" width="4" height="4.6" fill="#000"/>
<rect x="613" y="476.3" width="2.4" height="6.6" fill="#000"/>
<rect x="614" y="482.3" width="1.2" height="3.3" fill="#000"/>
<rect x="618.8" y="476.3" width="3.2" height="6.6" fill="#000"/>
<rect x="623.2" y="479.3" width="6.6" height="7" fill="#000"/>
<rect x="624.2" y="480.3" width="4.6" height="5" fill="#fff"/>
<rect x="612" y="486.6" width="4" height="4.6" fill="#000"/>
<rect x="613" y="485.6" width="2.4" height="6.6" fill="#000"/>
<rect x="614" y="491.6" width="1.2" height="3.3" fill="#000"/>
<rect x="618.8" y="485.6" width="3.2" height="6.6" fill="#000"/>
<rect x="623.2" y="488.6" width="6.6" height="7" fill="#000"/>
<rect x="624.2" y="489.6" width="4.6" height="5" fill="#fff"/>
<rect x="612" y="495.9" width="4" height="4.6" fill="#000"/>
<rect x="613" y="494.9" width="2.4" height="6.6" fill="#000"/>
<rect x="614" y="500.9" width="1.2" height="3.3" fill="#000"/>
<rect x="618.8" y="494.9" width="3.2" height="6.6" fill="#000"/>
<rect x="623.2" y="497.9" width="6.6" height="7" fill="#000"/>
<rect x="624.2" y="498.9" width="4.6" height="5" fill="#fff"/>
<rect x="612" y="505.2" width="4" height="4.6" fill="#000"/>
<rect x="613" y="504.2" width="2.4" height="6.6" fill="#000"/>
<rect x="614" y="510.2" width="1.2" height="3.3" fill="#000"/>
<rect x="618.8" y="504.2" width="3.2" height="6.6" fill="#000"/>
<rect x="623.2" y="507.2" width="6.6" height="7" fill="#000"/>
<rect x="624.2" y="508.2" width="4.6" height="5" fill="#fff"/>
<rect x="612" y="514.5" width="4" height="4.6" fill="#000"/>
<rect x="613" y="513.5" width="2.4" height="6.6" fill="#000"/>
<rect x="614" y="519.5" width="1.2" height="3.3" fill="#000"/>
<rect x="618.8" y="513.5" width="3.2" height="6.6" fill="#000"/>
<rect x="623.5" y="518" width="2.5" height="2.5" fill="#fff"/>
<rect x="627" y="518" width="1.5" height="2.5" fill="#fff"/>
<rect x="667" y="461" width="31" height="37" fill="#000"/>
<rect x="664" y="467" width="3" height="24" fill="#000"/>
<rect x="691" y="456" width="7" height="46" fill="#000"/>
<rect x="694" y="454" width="4" height="51" fill="#000"/>
<rect x="660" y="469" width="4.8" height="8.8" fill="#000"/>
<rect x="661" y="470" width="2.8" height="6.8" fill="#fff"/>
<rect x="660" y="480" width="4.8" height="9" fill="#000"/>
<rect x="661" y="481" width="2.8" height="7" fill="#fff"/>
<rect x="666" y="477" width="1" height="5" fill="#fff"/>
<polygon points="121.5,11.5 127,14.7 137,15.4 137,18.6 127,19.3 121.5,22.5" fill="#000" shape-rendering="geometricPrecision"/>
<polygon points="120,15.1 127.8,16.75 127.8,17.25 120,18.9" fill="#fff" shape-rendering="geometricPrecision"/>
<polygon points="289.8,11.2 283.5,14.7 273.5,15.4 273.5,18.6 283.5,19.3 289.8,22.2" fill="#000" shape-rendering="geometricPrecision"/>
<polygon points="291.3,15.1 282.7,16.75 282.7,17.25 291.3,18.9" fill="#fff" shape-rendering="geometricPrecision"/>
<polygon points="47.5,61.4 55.5,65.9 63,66.8 63,69.4 55.5,70.3 47.5,74.4" fill="#000" shape-rendering="geometricPrecision"/>
<polygon points="46,65.2 56.3,67.85 56.3,68.35 46,71" fill="#fff" shape-rendering="geometricPrecision"/>
<polygon points="47.5,80.1 55.5,84.15 63,85.05 63,87.65 55.5,88.55 47.5,93.1" fill="#000" shape-rendering="geometricPrecision"/>
<polygon points="46,83.45 56.3,86.1 56.3,86.6 46,89.25" fill="#fff" shape-rendering="geometricPrecision"/>
<polygon points="47.5,98.6 55.5,102.4 63,103.3 63,105.9 55.5,106.8 47.5,111.6" fill="#000" shape-rendering="geometricPrecision"/>
<polygon points="46,101.7 56.3,104.35 56.3,104.85 46,107.5" fill="#fff" shape-rendering="geometricPrecision"/>
<polygon points="47.5,117.3 55.5,120.65 63,121.55 63,124.15 55.5,125.05 47.5,130.3" fill="#000" shape-rendering="geometricPrecision"/>
<polygon points="46,119.95 56.3,122.6 56.3,123.1 46,125.75" fill="#fff" shape-rendering="geometricPrecision"/>
<polygon points="47.5,136.4 55.5,138.9 63,139.8 63,142.4 55.5,143.3 47.5,149.4" fill="#000" shape-rendering="geometricPrecision"/>
<polygon points="46,138.2 56.3,140.85 56.3,141.35 46,144" fill="#fff" shape-rendering="geometricPrecision"/>
<polygon points="671.5,142.8 677.5,145.7 686,146.4 686,149.6 677.5,150.3 671.5,153.6" fill="#000" shape-rendering="geometricPrecision"/>
<polygon points="670,146.2 678.3,147.75 678.3,148.25 670,149.8" fill="#fff" shape-rendering="geometricPrecision"/>
<polygon points="191,338.4 196.5,342 206,342.7 206,345.9 196.5,346.6 191,349.8" fill="#000" shape-rendering="geometricPrecision"/>
<polygon points="189.5,342.2 197.3,344.05 197.3,344.55 189.5,346.4" fill="#fff" shape-rendering="geometricPrecision"/>
<polygon points="245.6,338.4 239.5,342 230,342.7 230,345.9 239.5,346.6 245.6,349.8" fill="#000" shape-rendering="geometricPrecision"/>
<polygon points="247.1,342.2 238.7,344.05 238.7,344.55 247.1,346.4" fill="#fff" shape-rendering="geometricPrecision"/>
<polygon points="294.5,386.5 287,390.2 280,390.7 280,393.3 287,393.8 294.5,397.8" fill="#000" shape-rendering="geometricPrecision"/>
<polygon points="296,389.95 286.2,391.75 286.2,392.25 296,394.05" fill="#fff" shape-rendering="geometricPrecision"/>
</svg>
</body></html>
